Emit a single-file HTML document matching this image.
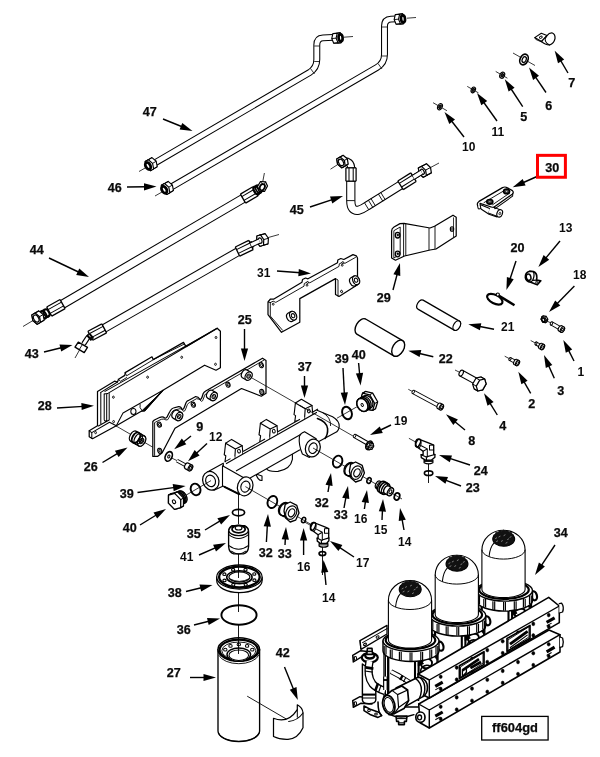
<!DOCTYPE html>
<html><head><meta charset="utf-8"><title>ff604gd</title>
<style>
html,body{margin:0;padding:0;background:#fff;}
body{width:600px;height:757px;overflow:hidden;}
svg{display:block;}
.lb{font-family:"Liberation Sans",Arial,sans-serif;font-weight:bold;text-anchor:middle;fill:#0a0a0a;stroke:#0a0a0a;stroke-width:0.25px;}
svg{will-change:transform;}
.l1{stroke:none;}
</style></head><body>
<svg width="600" height="757" viewBox="0 0 600 757">
<rect width="600" height="757" fill="#fff"/>
<text x="149.8" y="116.2" class="lb" font-size="12.6">47</text>
<text x="114.8" y="191.8" class="lb" font-size="12.6">46</text>
<text x="36.8" y="253.8" class="lb" font-size="12.6">44</text>
<text x="31.8" y="357.8" class="lb" font-size="12.6">43</text>
<text x="263.8" y="276.8" class="lb l1" font-size="12">31</text>
<text x="244.8" y="323.8" class="lb" font-size="12.6">25</text>
<text x="296.8" y="213.8" class="lb" font-size="12.6">45</text>
<text x="571.8" y="86.8" class="lb" font-size="12.6">7</text>
<text x="548.8" y="109.8" class="lb" font-size="12.6">6</text>
<text x="523.8" y="120.8" class="lb" font-size="12.6">5</text>
<text x="497.8" y="135.8" class="lb l1" font-size="12">11</text>
<text x="468.8" y="150.8" class="lb l1" font-size="12">10</text>
<text x="552.3" y="171.8" class="lb" font-size="12.6">30</text>
<text x="565.8" y="231.8" class="lb l1" font-size="12">13</text>
<text x="517.4" y="252.20000000000002" class="lb" font-size="12.6">20</text>
<text x="579.8" y="278.8" class="lb l1" font-size="12">18</text>
<text x="507.8" y="330.8" class="lb l1" font-size="12">21</text>
<text x="445.8" y="362.8" class="lb" font-size="12.6">22</text>
<text x="383.8" y="301.8" class="lb" font-size="12.6">29</text>
<text x="580.8" y="375.8" class="lb l1" font-size="12">1</text>
<text x="341.8" y="362.8" class="lb" font-size="12.6">39</text>
<text x="358.8" y="358.8" class="lb" font-size="12.6">40</text>
<text x="304.8" y="370.8" class="lb" font-size="12.6">37</text>
<text x="560.8" y="394.8" class="lb" font-size="12.6">3</text>
<text x="531.8" y="407.8" class="lb" font-size="12.6">2</text>
<text x="502.8" y="429.8" class="lb" font-size="12.6">4</text>
<text x="471.8" y="444.8" class="lb" font-size="12.6">8</text>
<text x="400.8" y="424.8" class="lb l1" font-size="12">19</text>
<text x="480.8" y="474.8" class="lb" font-size="12.6">24</text>
<text x="472.8" y="491.8" class="lb" font-size="12.6">23</text>
<text x="321.8" y="506.8" class="lb" font-size="12.6">32</text>
<text x="340.8" y="518.8" class="lb" font-size="12.6">33</text>
<text x="360.8" y="522.8" class="lb l1" font-size="12">16</text>
<text x="380.8" y="533.8" class="lb l1" font-size="12">15</text>
<text x="404.8" y="545.8" class="lb l1" font-size="12">14</text>
<text x="362.8" y="566.8" class="lb l1" font-size="12">17</text>
<text x="303.8" y="570.8" class="lb l1" font-size="12">16</text>
<text x="328.8" y="601.8" class="lb l1" font-size="12">14</text>
<text x="560.8" y="537.0" class="lb" font-size="12.6">34</text>
<text x="44.8" y="409.8" class="lb" font-size="12.6">28</text>
<text x="199.8" y="430.8" class="lb" font-size="12.6">9</text>
<text x="215.8" y="440.8" class="lb l1" font-size="12">12</text>
<text x="90.8" y="470.8" class="lb" font-size="12.6">26</text>
<text x="126.8" y="497.8" class="lb" font-size="12.6">39</text>
<text x="129.8" y="531.8" class="lb" font-size="12.6">40</text>
<text x="193.8" y="537.8" class="lb" font-size="12.6">35</text>
<text x="186.8" y="560.8" class="lb l1" font-size="12">41</text>
<text x="265.8" y="556.8" class="lb" font-size="12.6">32</text>
<text x="284.8" y="557.8" class="lb" font-size="12.6">33</text>
<text x="174.8" y="596.8" class="lb" font-size="12.6">38</text>
<text x="183.8" y="633.8" class="lb" font-size="12.6">36</text>
<text x="173.8" y="676.8" class="lb" font-size="12.6">27</text>
<text x="282.8" y="656.8" class="lb" font-size="12.6">42</text>
<line x1="163.0" y1="119.0" x2="182.8" y2="127.0" stroke="#000" stroke-width="1.4"/>
<polygon points="192.5,131.0 179.6,129.6 182.3,123.0" fill="#000"/>
<line x1="127.0" y1="187.0" x2="146.0" y2="186.7" stroke="#000" stroke-width="1.4"/>
<polygon points="156.5,186.6 144.0,190.4 144.0,183.2" fill="#000"/>
<line x1="49.0" y1="258.0" x2="79.5" y2="272.5" stroke="#000" stroke-width="1.4"/>
<polygon points="89.0,277.0 76.2,274.9 79.3,268.4" fill="#000"/>
<line x1="44.0" y1="352.0" x2="62.3" y2="347.5" stroke="#000" stroke-width="1.4"/>
<polygon points="72.5,345.0 61.2,351.5 59.5,344.5" fill="#000"/>
<line x1="277.0" y1="271.0" x2="300.5" y2="272.7" stroke="#000" stroke-width="1.4"/>
<polygon points="311.0,273.5 298.3,276.2 298.8,269.0" fill="#000"/>
<line x1="244.5" y1="329.0" x2="244.5" y2="350.5" stroke="#000" stroke-width="1.4"/>
<polygon points="244.5,361.0 240.9,348.5 248.1,348.5" fill="#000"/>
<line x1="310.0" y1="207.0" x2="333.0" y2="199.3" stroke="#000" stroke-width="1.4"/>
<polygon points="343.0,196.0 332.3,203.4 330.0,196.5" fill="#000"/>
<line x1="568.0" y1="73.0" x2="560.1" y2="59.7" stroke="#000" stroke-width="1.4"/>
<polygon points="554.7,50.7 564.2,59.6 558.0,63.3" fill="#000"/>
<line x1="546.0" y1="92.5" x2="534.9" y2="76.2" stroke="#000" stroke-width="1.4"/>
<polygon points="529.0,67.5 539.0,75.8 533.1,79.9" fill="#000"/>
<line x1="522.7" y1="106.7" x2="510.5" y2="88.0" stroke="#000" stroke-width="1.4"/>
<polygon points="504.8,79.2 514.6,87.7 508.6,91.6" fill="#000"/>
<line x1="497.0" y1="121.0" x2="483.1" y2="101.5" stroke="#000" stroke-width="1.4"/>
<polygon points="477.0,93.0 487.2,101.1 481.3,105.3" fill="#000"/>
<line x1="464.0" y1="137.0" x2="451.0" y2="120.3" stroke="#000" stroke-width="1.4"/>
<polygon points="444.5,112.0 455.0,119.6 449.3,124.1" fill="#000"/>
<line x1="537.0" y1="176.5" x2="522.3" y2="183.0" stroke="#000" stroke-width="1.4"/>
<polygon points="512.7,187.3 522.7,178.9 525.6,185.5" fill="#000"/>
<line x1="560.0" y1="241.0" x2="545.1" y2="258.9" stroke="#000" stroke-width="1.4"/>
<polygon points="538.4,267.0 543.6,255.1 549.2,259.7" fill="#000"/>
<line x1="516.0" y1="261.0" x2="509.7" y2="280.0" stroke="#000" stroke-width="1.4"/>
<polygon points="506.4,290.0 506.9,277.0 513.7,279.3" fill="#000"/>
<line x1="574.4" y1="286.0" x2="556.3" y2="304.5" stroke="#000" stroke-width="1.4"/>
<polygon points="549.0,312.0 555.2,300.5 560.3,305.6" fill="#000"/>
<line x1="494.0" y1="329.3" x2="478.6" y2="326.3" stroke="#000" stroke-width="1.4"/>
<polygon points="468.3,324.3 481.3,323.2 479.9,330.2" fill="#000"/>
<line x1="433.3" y1="356.7" x2="418.5" y2="353.2" stroke="#000" stroke-width="1.4"/>
<polygon points="408.3,350.7 421.3,350.1 419.6,357.1" fill="#000"/>
<line x1="393.0" y1="290.0" x2="397.4" y2="273.2" stroke="#000" stroke-width="1.4"/>
<polygon points="400.0,263.0 400.3,276.0 393.4,274.2" fill="#000"/>
<line x1="574.0" y1="361.0" x2="568.1" y2="349.4" stroke="#000" stroke-width="1.4"/>
<polygon points="563.3,340.0 572.2,349.5 565.8,352.8" fill="#000"/>
<line x1="343.0" y1="368.0" x2="344.4" y2="394.5" stroke="#000" stroke-width="1.4"/>
<polygon points="345.0,405.0 340.7,392.7 347.9,392.3" fill="#000"/>
<line x1="358.6" y1="363.0" x2="359.7" y2="375.0" stroke="#000" stroke-width="1.4"/>
<polygon points="360.6,385.5 355.9,373.4 363.1,372.7" fill="#000"/>
<line x1="304.5" y1="376.0" x2="304.5" y2="387.5" stroke="#000" stroke-width="1.4"/>
<polygon points="304.5,398.0 300.9,385.5 308.1,385.5" fill="#000"/>
<line x1="530.7" y1="393.3" x2="523.5" y2="380.8" stroke="#000" stroke-width="1.4"/>
<polygon points="518.3,371.7 527.6,380.7 521.4,384.3" fill="#000"/>
<line x1="497.3" y1="415.0" x2="489.5" y2="402.3" stroke="#000" stroke-width="1.4"/>
<polygon points="484.0,393.3 493.6,402.1 487.5,405.8" fill="#000"/>
<line x1="465.0" y1="430.0" x2="454.1" y2="421.0" stroke="#000" stroke-width="1.4"/>
<polygon points="446.0,414.3 457.9,419.5 453.3,425.0" fill="#000"/>
<line x1="391.0" y1="425.0" x2="379.5" y2="430.5" stroke="#000" stroke-width="1.4"/>
<polygon points="370.0,435.0 379.7,426.4 382.8,432.9" fill="#000"/>
<line x1="470.0" y1="465.0" x2="449.0" y2="458.2" stroke="#000" stroke-width="1.4"/>
<polygon points="439.0,455.0 452.0,455.4 449.8,462.3" fill="#000"/>
<line x1="461.0" y1="486.0" x2="444.8" y2="479.8" stroke="#000" stroke-width="1.4"/>
<polygon points="435.0,476.0 448.0,477.1 445.4,483.8" fill="#000"/>
<line x1="328.0" y1="492.0" x2="329.4" y2="483.4" stroke="#000" stroke-width="1.4"/>
<polygon points="331.0,473.0 332.6,485.9 325.5,484.8" fill="#000"/>
<line x1="344.0" y1="508.0" x2="346.1" y2="496.3" stroke="#000" stroke-width="1.4"/>
<polygon points="348.0,486.0 349.3,498.9 342.2,497.7" fill="#000"/>
<line x1="364.4" y1="509.0" x2="365.6" y2="500.4" stroke="#000" stroke-width="1.4"/>
<polygon points="367.0,490.0 368.9,502.9 361.7,501.9" fill="#000"/>
<line x1="382.0" y1="520.0" x2="382.5" y2="509.5" stroke="#000" stroke-width="1.4"/>
<polygon points="383.0,499.0 386.0,511.7 378.8,511.3" fill="#000"/>
<line x1="404.0" y1="530.0" x2="401.9" y2="518.3" stroke="#000" stroke-width="1.4"/>
<polygon points="400.0,508.0 405.8,519.7 398.7,520.9" fill="#000"/>
<line x1="354.0" y1="557.0" x2="338.7" y2="546.8" stroke="#000" stroke-width="1.4"/>
<polygon points="330.0,541.0 342.4,544.9 338.4,550.9" fill="#000"/>
<line x1="303.6" y1="555.0" x2="303.6" y2="538.5" stroke="#000" stroke-width="1.4"/>
<polygon points="303.6,528.0 307.2,540.5 300.0,540.5" fill="#000"/>
<line x1="326.0" y1="585.0" x2="324.5" y2="570.4" stroke="#000" stroke-width="1.4"/>
<polygon points="323.5,560.0 328.3,572.1 321.2,572.8" fill="#000"/>
<line x1="555.0" y1="545.0" x2="540.8" y2="566.3" stroke="#000" stroke-width="1.4"/>
<polygon points="535.0,575.0 538.9,562.6 544.9,566.6" fill="#000"/>
<line x1="57.0" y1="408.0" x2="83.5" y2="406.4" stroke="#000" stroke-width="1.4"/>
<polygon points="94.0,405.8 81.7,410.1 81.3,402.9" fill="#000"/>
<line x1="191.0" y1="436.0" x2="182.5" y2="442.7" stroke="#000" stroke-width="1.4"/>
<polygon points="174.2,449.2 181.8,438.6 186.3,444.3" fill="#000"/>
<line x1="207.0" y1="443.5" x2="195.7" y2="454.1" stroke="#000" stroke-width="1.4"/>
<polygon points="188.0,461.3 194.7,450.1 199.6,455.4" fill="#000"/>
<line x1="102.5" y1="462.5" x2="118.5" y2="452.9" stroke="#000" stroke-width="1.4"/>
<polygon points="127.5,447.5 118.6,457.0 114.9,450.8" fill="#000"/>
<line x1="137.5" y1="492.5" x2="175.2" y2="487.4" stroke="#000" stroke-width="1.4"/>
<polygon points="185.6,486.0 173.7,491.2 172.7,484.1" fill="#000"/>
<line x1="140.0" y1="525.0" x2="157.1" y2="514.5" stroke="#000" stroke-width="1.4"/>
<polygon points="166.0,509.0 157.2,518.6 153.5,512.5" fill="#000"/>
<line x1="205.0" y1="530.0" x2="221.0" y2="520.4" stroke="#000" stroke-width="1.4"/>
<polygon points="230.0,515.0 221.1,524.5 217.4,518.3" fill="#000"/>
<line x1="199.0" y1="555.0" x2="216.4" y2="547.3" stroke="#000" stroke-width="1.4"/>
<polygon points="226.0,543.0 216.0,551.4 213.1,544.8" fill="#000"/>
<line x1="266.4" y1="542.0" x2="267.4" y2="524.5" stroke="#000" stroke-width="1.4"/>
<polygon points="268.0,514.0 270.9,526.7 263.7,526.3" fill="#000"/>
<line x1="285.0" y1="545.0" x2="285.4" y2="537.5" stroke="#000" stroke-width="1.4"/>
<polygon points="286.0,527.0 288.9,539.7 281.7,539.3" fill="#000"/>
<line x1="186.0" y1="591.5" x2="202.3" y2="587.5" stroke="#000" stroke-width="1.4"/>
<polygon points="212.5,585.0 201.2,591.5 199.5,584.5" fill="#000"/>
<line x1="194.0" y1="625.0" x2="209.8" y2="621.0" stroke="#000" stroke-width="1.4"/>
<polygon points="220.0,618.5 208.7,625.0 207.0,618.0" fill="#000"/>
<line x1="190.0" y1="677.5" x2="205.5" y2="677.5" stroke="#000" stroke-width="1.4"/>
<polygon points="216.0,677.5 203.5,681.1 203.5,673.9" fill="#000"/>
<line x1="284.5" y1="667.0" x2="293.9" y2="690.3" stroke="#000" stroke-width="1.4"/>
<polygon points="297.8,700.0 289.8,689.8 296.5,687.1" fill="#000"/>
<line x1="554.3" y1="378.3" x2="548.2" y2="364.6" stroke="#000" stroke-width="1.4"/>
<polygon points="544.0,355.0 552.3,365.0 545.8,367.9" fill="#000"/>
<rect x="537.5" y="155.35" width="27.9" height="21.9" fill="none" stroke="#ff0000" stroke-width="3"/>
<rect x="481.7" y="716.4" width="66.4" height="23.6" fill="#fff" stroke="#000" stroke-width="1.3"/>
<text x="515" y="731.5" class="lb" font-size="12.9">ff604gd</text>
<line x1="139" y1="171.5" x2="153" y2="163.5" stroke="#000" stroke-width="0.78"/>
<path d="M 154,163.4 L 309.5,72.6 Q 316.8,68 316.8,59.5 L 316.8,45 Q 316.8,38.2 323,37.9 L 333,37.4" fill="none" stroke="#000" stroke-width="6.95" stroke-linejoin="round" stroke-linecap="butt"/>
<path d="M 154,163.4 L 309.5,72.6 Q 316.8,68 316.8,59.5 L 316.8,45 Q 316.8,38.2 323,37.9 L 333,37.4" fill="none" stroke="#fff" stroke-width="4.8500000000000005" stroke-linejoin="round" stroke-linecap="butt"/>
<line x1="310.5" y1="68.5" x2="314.5" y2="74" stroke="#000" stroke-width="0.78"/>
<line x1="314.2" y1="61.5" x2="319.5" y2="61.5" stroke="#000" stroke-width="0.78"/>
<line x1="314.2" y1="46" x2="319.5" y2="46" stroke="#000" stroke-width="0.78"/>
<path d="M 145.17,161.54 L 148.34,159.71 L 151.98,157.61 L 156.21,161.27 L 157.26,166.76 L 153.63,168.86 L 150.46,170.69 L 146.23,167.03 Z" fill="#fff" stroke="#000" stroke-width="1.12" stroke-linejoin="round" stroke-linecap="round" />
<line x1="145.17" y1="161.54" x2="148.81" y2="159.44" stroke="#000" stroke-width="0.9"/>
<line x1="146.23" y1="167.03" x2="149.87" y2="164.93" stroke="#000" stroke-width="0.9"/>
<line x1="150.46" y1="170.69" x2="154.09" y2="168.59" stroke="#000" stroke-width="0.9"/>
<line x1="153.63" y1="168.86" x2="157.26" y2="166.76" stroke="#000" stroke-width="0.9"/>
<line x1="152.57" y1="163.37" x2="156.21" y2="161.27" stroke="#000" stroke-width="0.9"/>
<line x1="148.34" y1="159.71" x2="151.98" y2="157.61" stroke="#000" stroke-width="0.9"/>
<path d="M 145.17,161.54 L 146.23,167.03 L 150.46,170.69 L 153.63,168.86 L 152.57,163.37 L 148.34,159.71 Z" fill="#fff" stroke="#000" stroke-width="1.12" stroke-linejoin="round" stroke-linecap="round" />
<ellipse cx="148.0" cy="165.9" rx="2.3" ry="3.7" fill="#fff" stroke="#000" stroke-width="2.8" transform="rotate(-30 148.0 165.9)"/>
<line x1="344" y1="37.2" x2="353" y2="36.5" stroke="#000" stroke-width="0.78"/>
<path d="M 331.75,38.55 L 332.86,33.59 L 337.24,33.2 L 340.31,32.93 L 342.27,37.63 L 341.16,42.6 L 338.09,42.87 L 333.71,43.25 Z" fill="#fff" stroke="#000" stroke-width="1.12" stroke-linejoin="round" stroke-linecap="round" />
<line x1="341.16" y1="42.6" x2="336.77" y2="42.98" stroke="#000" stroke-width="0.9"/>
<line x1="342.27" y1="37.63" x2="337.89" y2="38.02" stroke="#000" stroke-width="0.9"/>
<line x1="340.31" y1="32.93" x2="335.93" y2="33.32" stroke="#000" stroke-width="0.9"/>
<line x1="337.24" y1="33.2" x2="332.86" y2="33.59" stroke="#000" stroke-width="0.9"/>
<line x1="336.13" y1="38.17" x2="331.75" y2="38.55" stroke="#000" stroke-width="0.9"/>
<line x1="338.09" y1="42.87" x2="333.71" y2="43.25" stroke="#000" stroke-width="0.9"/>
<path d="M 341.16,42.6 L 342.27,37.63 L 340.31,32.93 L 337.24,33.2 L 336.13,38.17 L 338.09,42.87 Z" fill="#fff" stroke="#000" stroke-width="1.12" stroke-linejoin="round" stroke-linecap="round" />
<ellipse cx="340.6" cy="37.8" rx="2.0" ry="3.5" fill="#fff" stroke="#000" stroke-width="2.69" transform="rotate(-5 340.6 37.8)"/>
<line x1="155" y1="196" x2="169" y2="188" stroke="#000" stroke-width="0.78"/>
<path d="M 170,187.8 L 377,67.4 Q 384.5,63 384.5,54.5 L 384.5,26 Q 384.5,19.4 391,19.1 L 396,18.9" fill="none" stroke="#000" stroke-width="6.95" stroke-linejoin="round" stroke-linecap="butt"/>
<path d="M 170,187.8 L 377,67.4 Q 384.5,63 384.5,54.5 L 384.5,26 Q 384.5,19.4 391,19.1 L 396,18.9" fill="none" stroke="#fff" stroke-width="4.8500000000000005" stroke-linejoin="round" stroke-linecap="butt"/>
<line x1="378" y1="63.5" x2="382" y2="69" stroke="#000" stroke-width="0.78"/>
<line x1="382" y1="56" x2="387" y2="56" stroke="#000" stroke-width="0.78"/>
<line x1="382" y1="27" x2="387" y2="27" stroke="#000" stroke-width="0.78"/>
<path d="M 161.37,185.34 L 164.54,183.51 L 168.18,181.41 L 172.41,185.07 L 173.46,190.56 L 169.83,192.66 L 166.66,194.49 L 162.43,190.83 Z" fill="#fff" stroke="#000" stroke-width="1.12" stroke-linejoin="round" stroke-linecap="round" />
<line x1="161.37" y1="185.34" x2="165.01" y2="183.24" stroke="#000" stroke-width="0.9"/>
<line x1="162.43" y1="190.83" x2="166.07" y2="188.73" stroke="#000" stroke-width="0.9"/>
<line x1="166.66" y1="194.49" x2="170.29" y2="192.39" stroke="#000" stroke-width="0.9"/>
<line x1="169.83" y1="192.66" x2="173.46" y2="190.56" stroke="#000" stroke-width="0.9"/>
<line x1="168.77" y1="187.17" x2="172.41" y2="185.07" stroke="#000" stroke-width="0.9"/>
<line x1="164.54" y1="183.51" x2="168.18" y2="181.41" stroke="#000" stroke-width="0.9"/>
<path d="M 161.37,185.34 L 162.43,190.83 L 166.66,194.49 L 169.83,192.66 L 168.77,187.17 L 164.54,183.51 Z" fill="#fff" stroke="#000" stroke-width="1.12" stroke-linejoin="round" stroke-linecap="round" />
<ellipse cx="164.2" cy="189.7" rx="2.3" ry="3.7" fill="#fff" stroke="#000" stroke-width="2.8" transform="rotate(-30 164.2 189.7)"/>
<line x1="407" y1="18.2" x2="416" y2="17.5" stroke="#000" stroke-width="0.78"/>
<path d="M 394.15,19.55 L 395.26,14.59 L 399.64,14.2 L 402.71,13.93 L 404.67,18.63 L 403.56,23.6 L 400.49,23.87 L 396.11,24.25 Z" fill="#fff" stroke="#000" stroke-width="1.12" stroke-linejoin="round" stroke-linecap="round" />
<line x1="403.56" y1="23.6" x2="399.17" y2="23.98" stroke="#000" stroke-width="0.9"/>
<line x1="404.67" y1="18.63" x2="400.29" y2="19.02" stroke="#000" stroke-width="0.9"/>
<line x1="402.71" y1="13.93" x2="398.33" y2="14.32" stroke="#000" stroke-width="0.9"/>
<line x1="399.64" y1="14.2" x2="395.26" y2="14.59" stroke="#000" stroke-width="0.9"/>
<line x1="398.53" y1="19.17" x2="394.15" y2="19.55" stroke="#000" stroke-width="0.9"/>
<line x1="400.49" y1="23.87" x2="396.11" y2="24.25" stroke="#000" stroke-width="0.9"/>
<path d="M 403.56,23.6 L 404.67,18.63 L 402.71,13.93 L 399.64,14.2 L 398.53,19.17 L 400.49,23.87 Z" fill="#fff" stroke="#000" stroke-width="1.12" stroke-linejoin="round" stroke-linecap="round" />
<ellipse cx="403.0" cy="18.8" rx="2.0" ry="3.5" fill="#fff" stroke="#000" stroke-width="2.69" transform="rotate(-5 403.0 18.8)"/>
<line x1="23" y1="326.5" x2="33" y2="320.5" stroke="#000" stroke-width="0.78"/>
<path d="M 61,305.1 L 244,198.0" fill="none" stroke="#000" stroke-width="9.350000000000001" stroke-linejoin="round" stroke-linecap="butt"/>
<path d="M 61,305.1 L 244,198.0" fill="none" stroke="#fff" stroke-width="7.250000000000001" stroke-linejoin="round" stroke-linecap="butt"/>
<path d="M 40,316.6 L 49.4,311.2" fill="none" stroke="#000" stroke-width="7.5" stroke-linejoin="round" stroke-linecap="butt"/>
<path d="M 40,316.6 L 49.4,311.2" fill="none" stroke="#fff" stroke-width="5.300000000000001" stroke-linejoin="round" stroke-linecap="butt"/>
<ellipse cx="43.4" cy="314.8" rx="2.6" ry="4.2" fill="none" stroke="#000" stroke-width="1.9" transform="rotate(-30 43.4 314.8)"/>
<ellipse cx="46.4" cy="313.1" rx="2.6" ry="4.2" fill="none" stroke="#000" stroke-width="1.9" transform="rotate(-30 46.4 313.1)"/>
<path d="M 49.2,311.6 L 62.6,304.1" fill="none" stroke="#000" stroke-width="11.65" stroke-linejoin="round" stroke-linecap="butt"/>
<path d="M 49.2,311.6 L 62.6,304.1" fill="none" stroke="#fff" stroke-width="9.15" stroke-linejoin="round" stroke-linecap="butt"/>
<line x1="48.1" y1="309.6" x2="61.5" y2="302.1" stroke="#000" stroke-width="1.01"/>
<line x1="50.2" y1="313.4" x2="63.6" y2="305.9" stroke="#000" stroke-width="1.01"/>
<line x1="51.7" y1="316.1" x2="46.7" y2="307.1" stroke="#000" stroke-width="1.34"/>
<line x1="65.1" y1="308.6" x2="60.1" y2="299.6" stroke="#000" stroke-width="1.34"/>
<path d="M 31.85,314.91 L 35.49,312.81 L 38.82,310.89 L 43.17,314.58 L 44.19,320.19 L 40.55,322.29 L 37.22,324.21 L 32.87,320.52 Z" fill="#fff" stroke="#000" stroke-width="1.23" stroke-linejoin="round" stroke-linecap="round" />
<line x1="31.85" y1="314.91" x2="35.49" y2="312.81" stroke="#000" stroke-width="0.99"/>
<line x1="32.87" y1="320.52" x2="36.51" y2="318.42" stroke="#000" stroke-width="0.99"/>
<line x1="37.22" y1="324.21" x2="40.86" y2="322.11" stroke="#000" stroke-width="0.99"/>
<line x1="40.55" y1="322.29" x2="44.19" y2="320.19" stroke="#000" stroke-width="0.99"/>
<line x1="39.53" y1="316.68" x2="43.17" y2="314.58" stroke="#000" stroke-width="0.99"/>
<line x1="35.18" y1="312.99" x2="38.82" y2="310.89" stroke="#000" stroke-width="0.99"/>
<path d="M 31.85,314.91 L 32.87,320.52 L 37.22,324.21 L 40.55,322.29 L 39.53,316.68 L 35.18,312.99 Z" fill="#fff" stroke="#000" stroke-width="1.23" stroke-linejoin="round" stroke-linecap="round" />
<ellipse cx="36.2" cy="318.6" rx="2.4" ry="3.8" fill="#fff" stroke="#000" stroke-width="1.23" transform="rotate(150 36.2 318.6)"/>
<path d="M 243,198.6 L 255.5,191.3" fill="none" stroke="#000" stroke-width="11.65" stroke-linejoin="round" stroke-linecap="butt"/>
<path d="M 243,198.6 L 255.5,191.3" fill="none" stroke="#fff" stroke-width="9.15" stroke-linejoin="round" stroke-linecap="butt"/>
<line x1="241.8" y1="196.6" x2="254.3" y2="189.3" stroke="#000" stroke-width="1.01"/>
<line x1="244.0" y1="200.4" x2="256.5" y2="193.1" stroke="#000" stroke-width="1.01"/>
<line x1="245.6" y1="203.1" x2="240.4" y2="194.1" stroke="#000" stroke-width="1.34"/>
<line x1="258.1" y1="195.8" x2="252.9" y2="186.8" stroke="#000" stroke-width="1.34"/>
<line x1="264.4" y1="173" x2="262.5" y2="183" stroke="#000" stroke-width="0.78"/>
<path d="M 255.5,191.0 L 259.4,188.6" fill="none" stroke="#000" stroke-width="7.5" stroke-linejoin="round" stroke-linecap="butt"/>
<path d="M 255.5,191.0 L 259.4,188.6" fill="none" stroke="#fff" stroke-width="5.300000000000001" stroke-linejoin="round" stroke-linecap="butt"/>
<ellipse cx="256.4" cy="190.5" rx="2.4" ry="4.4" fill="none" stroke="#000" stroke-width="1.9" transform="rotate(-30 256.4 190.5)"/>
<ellipse cx="258.4" cy="189.2" rx="2.4" ry="4.4" fill="none" stroke="#000" stroke-width="1.68" transform="rotate(-30 258.4 189.2)"/>
<path d="M 257.5,186.5 L 260.5,181.5 L 265.5,181.8 L 267.5,186 L 264.5,191.5 L 259.5,191.5 Z" fill="#fff" stroke="#000" stroke-width="1.23" stroke-linejoin="round" stroke-linecap="round" />
<ellipse cx="262.3" cy="187.2" rx="2.4" ry="3.3" fill="#fff" stroke="#000" stroke-width="1.79" transform="rotate(25 262.3 187.2)"/>
<path d="M 260.5,181.5 L 262,183.5 M 265.5,181.8 L 264.5,183.6" fill="none" stroke="#000" stroke-width="0.78" stroke-linejoin="round" stroke-linecap="round" />
<path d="M 104,328.4 L 238.5,251.4" fill="none" stroke="#000" stroke-width="9.05" stroke-linejoin="round" stroke-linecap="butt"/>
<path d="M 104,328.4 L 238.5,251.4" fill="none" stroke="#fff" stroke-width="6.95" stroke-linejoin="round" stroke-linecap="butt"/>
<path d="M 90.3,335.8 L 104.2,328.4" fill="none" stroke="#000" stroke-width="11.45" stroke-linejoin="round" stroke-linecap="butt"/>
<path d="M 90.3,335.8 L 104.2,328.4" fill="none" stroke="#fff" stroke-width="8.95" stroke-linejoin="round" stroke-linecap="butt"/>
<line x1="89.2" y1="333.8" x2="103.1" y2="326.4" stroke="#000" stroke-width="1.01"/>
<line x1="91.3" y1="337.6" x2="105.2" y2="330.2" stroke="#000" stroke-width="1.01"/>
<line x1="92.7" y1="340.3" x2="87.9" y2="331.3" stroke="#000" stroke-width="1.34"/>
<line x1="106.6" y1="332.9" x2="101.8" y2="323.9" stroke="#000" stroke-width="1.34"/>
<path d="M 91,334.5 L 87.5,338 L 83.6,344" fill="none" stroke="#000" stroke-width="5.1" stroke-linejoin="round" stroke-linecap="butt"/>
<path d="M 91,334.5 L 87.5,338 L 83.6,344" fill="none" stroke="#fff" stroke-width="2.9" stroke-linejoin="round" stroke-linecap="butt"/>
<line x1="87" y1="335" x2="91.5" y2="340.4" stroke="#000" stroke-width="2.02"/>
<line x1="89.4" y1="333.6" x2="93.4" y2="338.6" stroke="#000" stroke-width="1.79"/>
<line x1="75" y1="358" x2="79.5" y2="350" stroke="#000" stroke-width="0.78"/>
<path d="M 78.3,342.1 L 87.5,347.4 L 84.2,352.6 L 75,347.2 Z" fill="#fff" stroke="#000" stroke-width="1.34" stroke-linejoin="round" stroke-linecap="round" />
<line x1="82.4" y1="344.5" x2="79.2" y2="349.7" stroke="#000" stroke-width="0.9"/>
<path d="M 237.5,251.6 L 251,245" fill="none" stroke="#000" stroke-width="11.45" stroke-linejoin="round" stroke-linecap="butt"/>
<path d="M 237.5,251.6 L 251,245" fill="none" stroke="#fff" stroke-width="8.95" stroke-linejoin="round" stroke-linecap="butt"/>
<line x1="236.5" y1="249.6" x2="250.0" y2="243.0" stroke="#000" stroke-width="1.01"/>
<line x1="238.4" y1="253.4" x2="251.9" y2="246.8" stroke="#000" stroke-width="1.01"/>
<line x1="239.7" y1="256.2" x2="235.3" y2="247.0" stroke="#000" stroke-width="1.34"/>
<line x1="253.2" y1="249.6" x2="248.8" y2="240.4" stroke="#000" stroke-width="1.34"/>
<line x1="250.6" y1="241.4" x2="253" y2="247.6" stroke="#000" stroke-width="2.24"/>
<line x1="266.5" y1="238" x2="279" y2="234.5" stroke="#000" stroke-width="0.78"/>
<path d="M 256.62,241.63 L 256.93,235.95 L 265.12,233.6 L 268.39,238.25 L 268.08,243.93 L 263.47,245.25 L 259.89,246.27 Z" fill="#fff" stroke="#000" stroke-width="1.18" stroke-linejoin="round" stroke-linecap="round" />
<line x1="256.93" y1="235.95" x2="261.55" y2="234.63" stroke="#000" stroke-width="0.94"/>
<line x1="256.62" y1="241.63" x2="261.24" y2="240.3" stroke="#000" stroke-width="0.94"/>
<line x1="259.89" y1="246.27" x2="264.51" y2="244.95" stroke="#000" stroke-width="0.94"/>
<line x1="263.47" y1="245.25" x2="268.08" y2="243.93" stroke="#000" stroke-width="0.94"/>
<line x1="263.78" y1="239.57" x2="268.39" y2="238.25" stroke="#000" stroke-width="0.94"/>
<line x1="260.51" y1="234.93" x2="265.12" y2="233.6" stroke="#000" stroke-width="0.94"/>
<path d="M 256.93,235.95 L 256.62,241.63 L 259.89,246.27 L 263.47,245.25 L 263.78,239.57 L 260.51,234.93 Z" fill="#fff" stroke="#000" stroke-width="1.18" stroke-linejoin="round" stroke-linecap="round" />
<ellipse cx="260.2" cy="240.6" rx="1.7" ry="2.8" fill="#fff" stroke="#000" stroke-width="1.18" transform="rotate(164 260.2 240.6)"/>
<path d="M 251,245 L 259.4,241.0" fill="none" stroke="#000" stroke-width="5.45" stroke-linejoin="round" stroke-linecap="butt"/>
<path d="M 251,245 L 259.4,241.0" fill="none" stroke="#fff" stroke-width="3.3500000000000005" stroke-linejoin="round" stroke-linecap="butt"/>
<line x1="330.5" y1="169.2" x2="337" y2="165" stroke="#000" stroke-width="0.78"/>
<path d="M 350.8,180 L 350.8,201 Q 350.8,211.4 358.6,210.2 Q 362,209.4 367,206 L 401,184.8" fill="none" stroke="#000" stroke-width="9.25" stroke-linejoin="round" stroke-linecap="butt"/>
<path d="M 350.8,180 L 350.8,201 Q 350.8,211.4 358.6,210.2 Q 362,209.4 367,206 L 401,184.8" fill="none" stroke="#fff" stroke-width="7.1499999999999995" stroke-linejoin="round" stroke-linecap="butt"/>
<line x1="364.40000000000003" y1="202.6" x2="368.8" y2="209.79999999999998" stroke="#000" stroke-width="0.9"/>
<line x1="368.40000000000003" y1="200.20000000000002" x2="372.8" y2="207.4" stroke="#000" stroke-width="0.9"/>
<line x1="371.0" y1="198.6" x2="375.4" y2="205.79999999999998" stroke="#000" stroke-width="0.9"/>
<line x1="378.40000000000003" y1="194.0" x2="382.8" y2="201.2" stroke="#000" stroke-width="0.9"/>
<line x1="380.8" y1="192.5" x2="385.2" y2="199.7" stroke="#000" stroke-width="0.9"/>
<line x1="346.8" y1="200.6" x2="354.8" y2="200.6" stroke="#000" stroke-width="0.9"/>
<path d="M 343,161.2 Q 351.2,160.5 351.2,169" fill="none" stroke="#000" stroke-width="8.1" stroke-linejoin="round" stroke-linecap="butt"/>
<path d="M 343,161.2 Q 351.2,160.5 351.2,169" fill="none" stroke="#fff" stroke-width="5.9" stroke-linejoin="round" stroke-linecap="butt"/>
<path d="M 351,167.8 L 351,181.2" fill="none" stroke="#000" stroke-width="11.45" stroke-linejoin="round" stroke-linecap="butt"/>
<path d="M 351,167.8 L 351,181.2" fill="none" stroke="#fff" stroke-width="8.95" stroke-linejoin="round" stroke-linecap="butt"/>
<line x1="353.2" y1="167.8" x2="353.2" y2="181.2" stroke="#000" stroke-width="1.01"/>
<line x1="349.0" y1="167.8" x2="349.0" y2="181.2" stroke="#000" stroke-width="1.01"/>
<line x1="345.9" y1="167.8" x2="356.1" y2="167.8" stroke="#000" stroke-width="1.34"/>
<line x1="345.9" y1="181.2" x2="356.1" y2="181.2" stroke="#000" stroke-width="1.34"/>
<path d="M 336.76,158.95 L 340.13,157.0 L 343.08,155.3 L 347.32,158.75 L 348.19,164.15 L 341.87,167.8 L 337.63,164.35 Z" fill="#fff" stroke="#000" stroke-width="1.23" stroke-linejoin="round" stroke-linecap="round" />
<line x1="336.76" y1="158.95" x2="339.7" y2="157.25" stroke="#000" stroke-width="0.99"/>
<line x1="337.63" y1="164.35" x2="340.57" y2="162.65" stroke="#000" stroke-width="0.99"/>
<line x1="341.87" y1="167.8" x2="344.81" y2="166.1" stroke="#000" stroke-width="0.99"/>
<line x1="345.24" y1="165.85" x2="348.19" y2="164.15" stroke="#000" stroke-width="0.99"/>
<line x1="344.37" y1="160.45" x2="347.32" y2="158.75" stroke="#000" stroke-width="0.99"/>
<line x1="340.13" y1="157.0" x2="343.08" y2="155.3" stroke="#000" stroke-width="0.99"/>
<path d="M 336.76,158.95 L 337.63,164.35 L 341.87,167.8 L 345.24,165.85 L 344.37,160.45 L 340.13,157.0 Z" fill="#fff" stroke="#000" stroke-width="1.23" stroke-linejoin="round" stroke-linecap="round" />
<ellipse cx="341.0" cy="162.4" rx="2.3" ry="3.5" fill="#fff" stroke="#000" stroke-width="1.23" transform="rotate(150 341.0 162.4)"/>
<path d="M 400.5,185.3 L 413.5,177.2" fill="none" stroke="#000" stroke-width="11.45" stroke-linejoin="round" stroke-linecap="butt"/>
<path d="M 400.5,185.3 L 413.5,177.2" fill="none" stroke="#fff" stroke-width="8.95" stroke-linejoin="round" stroke-linecap="butt"/>
<line x1="399.3" y1="183.4" x2="412.3" y2="175.3" stroke="#000" stroke-width="1.01"/>
<line x1="401.6" y1="187.0" x2="414.6" y2="178.9" stroke="#000" stroke-width="1.01"/>
<line x1="403.2" y1="189.6" x2="397.8" y2="181.0" stroke="#000" stroke-width="1.34"/>
<line x1="416.2" y1="181.5" x2="410.8" y2="172.9" stroke="#000" stroke-width="1.34"/>
<path d="M 413.5,177.2 L 420,173.2" fill="none" stroke="#000" stroke-width="5.4" stroke-linejoin="round" stroke-linecap="butt"/>
<path d="M 413.5,177.2 L 420,173.2" fill="none" stroke="#fff" stroke-width="3.4000000000000004" stroke-linejoin="round" stroke-linecap="butt"/>
<line x1="415.3" y1="173.5" x2="418" y2="178" stroke="#000" stroke-width="0.9"/>
<line x1="430" y1="167.8" x2="439" y2="163" stroke="#000" stroke-width="0.78"/>
<path d="M 418.37,168.06 L 426.49,163.74 L 430.52,167.48 L 431.37,172.91 L 426.43,175.54 L 423.25,177.23 L 419.22,173.49 Z" fill="#fff" stroke="#000" stroke-width="1.23" stroke-linejoin="round" stroke-linecap="round" />
<line x1="418.37" y1="168.06" x2="423.32" y2="165.43" stroke="#000" stroke-width="0.99"/>
<line x1="419.22" y1="173.49" x2="424.17" y2="170.86" stroke="#000" stroke-width="0.99"/>
<line x1="423.25" y1="177.23" x2="428.19" y2="174.6" stroke="#000" stroke-width="0.99"/>
<line x1="426.43" y1="175.54" x2="431.37" y2="172.91" stroke="#000" stroke-width="0.99"/>
<line x1="425.58" y1="170.11" x2="430.52" y2="167.48" stroke="#000" stroke-width="0.99"/>
<line x1="421.55" y1="166.37" x2="426.49" y2="163.74" stroke="#000" stroke-width="0.99"/>
<path d="M 418.37,168.06 L 419.22,173.49 L 423.25,177.23 L 426.43,175.54 L 425.58,170.11 L 421.55,166.37 Z" fill="#fff" stroke="#000" stroke-width="1.23" stroke-linejoin="round" stroke-linecap="round" />
<ellipse cx="422.4" cy="171.8" rx="1.6" ry="2.7" fill="#fff" stroke="#000" stroke-width="1.23" transform="rotate(152 422.4 171.8)"/>
<path d="M 413.5,177.2 L 421.6,172.2" fill="none" stroke="#000" stroke-width="5.4" stroke-linejoin="round" stroke-linecap="butt"/>
<path d="M 413.5,177.2 L 421.6,172.2" fill="none" stroke="#fff" stroke-width="3.4000000000000004" stroke-linejoin="round" stroke-linecap="butt"/>
<path d="M 268,302 L 270.5,299 L 273.5,299.2 L 302,282.2 L 302.5,279.5 L 305.5,278 L 308,278.8 L 337.5,262.8 L 337.8,260 L 340.8,258.5 L 343.8,259.5 L 353,254.6 L 356.3,255.8 L 357.5,258 L 357.5,284.8 L 339,296.5 L 335.5,294.5 L 335.5,278.6 L 299.8,298.6 L 299.8,322.3 L 281.5,332.3 L 268,314.6 Z" fill="#fff" stroke="#000" stroke-width="1.23" stroke-linejoin="round" stroke-linecap="round" />
<path d="M 270.3,302.6 L 273.2,301.2 L 275.8,302.4 L 304,286.2 L 304.3,283.5 L 307.2,282 L 309.8,282.8 L 339,266.4 L 339.3,263.8 L 342,262.6 L 345,263.3 L 355.5,257.4" fill="none" stroke="#000" stroke-width="0.9" stroke-linejoin="round" stroke-linecap="round" />
<path d="M 270.3,302.6 L 270.3,316 L 282.5,330.2" fill="none" stroke="#000" stroke-width="0.9" stroke-linejoin="round" stroke-linecap="round" />
<path d="M 335.5,278.6 L 338,280 L 338,296" fill="none" stroke="#000" stroke-width="0.9" stroke-linejoin="round" stroke-linecap="round" />
<line x1="268" y1="302" x2="270.3" y2="302.6" stroke="#000" stroke-width="0.9"/>
<ellipse cx="273.2" cy="304.2" rx="0.9" ry="1.0" fill="#fff" stroke="#000" stroke-width="0.9" transform="rotate(0 273.2 304.2)"/>
<ellipse cx="307" cy="285.2" rx="0.9" ry="1.0" fill="#fff" stroke="#000" stroke-width="0.9" transform="rotate(0 307 285.2)"/>
<ellipse cx="307.6" cy="282.5" rx="0.9" ry="1.0" fill="#fff" stroke="#000" stroke-width="0.9" transform="rotate(0 307.6 282.5)"/>
<ellipse cx="342.2" cy="265.2" rx="0.9" ry="1.0" fill="#fff" stroke="#000" stroke-width="0.9" transform="rotate(0 342.2 265.2)"/>
<ellipse cx="342.8" cy="262.6" rx="0.9" ry="1.0" fill="#fff" stroke="#000" stroke-width="0.9" transform="rotate(0 342.8 262.6)"/>
<path d="M 292.0,321.4 A 3.3,4.6 -26.6 0 1 287.9,313.2 L 291.0,311.6 A 3.3,4.6 -26.6 0 1 295.1,319.8 Z" fill="#fff" stroke="#000" stroke-width="1.23" stroke-linejoin="round" stroke-linecap="round" />
<ellipse cx="293.1" cy="315.7" rx="3.3" ry="4.6" fill="#fff" stroke="#000" stroke-width="1.23" transform="rotate(-26.6 293.1 315.7)"/>
<ellipse cx="293.06" cy="315.72" rx="1.656" ry="2.116" fill="#fff" stroke="#000" stroke-width="1.01" transform="rotate(-25 293.06 315.72)"/>
<path d="M 355.0,285.9 A 3.3,4.6 -26.6 0 1 350.9,277.7 L 354.0,276.1 A 3.3,4.6 -26.6 0 1 358.1,284.3 Z" fill="#fff" stroke="#000" stroke-width="1.23" stroke-linejoin="round" stroke-linecap="round" />
<ellipse cx="356.1" cy="280.2" rx="3.3" ry="4.6" fill="#fff" stroke="#000" stroke-width="1.23" transform="rotate(-26.6 356.1 280.2)"/>
<ellipse cx="356.06" cy="280.22" rx="1.656" ry="2.116" fill="#fff" stroke="#000" stroke-width="1.01" transform="rotate(-25 356.06 280.22)"/>
<ellipse cx="341.6" cy="291.5" rx="1.0" ry="1.3" fill="#fff" stroke="#000" stroke-width="0.9" transform="rotate(-20 341.6 291.5)"/>
<path d="M 391.6,231 Q 391.6,228.5 394,227 L 400,223.6 L 404,223.4 L 430,228 L 434.5,226.2 L 453,215.2 L 456.2,217.2 L 456.2,236 L 436,249 L 430,250 L 404.5,256 L 395.5,260.2 L 391.6,258 Z" fill="#fff" stroke="#000" stroke-width="1.23" stroke-linejoin="round" stroke-linecap="round" />
<path d="M 394.2,230.5 L 400.2,227 L 400.2,254.5 L 394.2,257.8 Z" fill="none" stroke="#000" stroke-width="0.9" stroke-linejoin="round" stroke-linecap="round" />
<line x1="403.6" y1="223.6" x2="403.6" y2="256" stroke="#000" stroke-width="0.9"/>
<line x1="405.8" y1="224" x2="405.8" y2="255.6" stroke="#000" stroke-width="0.9"/>
<line x1="429" y1="228" x2="429" y2="250.2" stroke="#000" stroke-width="0.9"/>
<line x1="435" y1="226" x2="435" y2="249.4" stroke="#000" stroke-width="0.9"/>
<line x1="453.5" y1="217.4" x2="453.5" y2="237.5" stroke="#000" stroke-width="0.78"/>
<ellipse cx="397.6" cy="235.2" rx="2.3" ry="2.8" fill="#fff" stroke="#000" stroke-width="1.34" transform="rotate(0 397.6 235.2)"/>
<ellipse cx="397.8" cy="235.0" rx="0.9" ry="1.1" fill="#000" stroke="#000" stroke-width="0.56" transform="rotate(0 397.8 235.0)"/>
<ellipse cx="397.6" cy="254" rx="2.3" ry="2.8" fill="#fff" stroke="#000" stroke-width="1.34" transform="rotate(0 397.6 254)"/>
<ellipse cx="397.8" cy="253.8" rx="0.9" ry="1.1" fill="#000" stroke="#000" stroke-width="0.56" transform="rotate(0 397.8 253.8)"/>
<ellipse cx="452" cy="229" rx="1.7" ry="2.3" fill="#fff" stroke="#000" stroke-width="1.12" transform="rotate(0 452 229)"/>
<ellipse cx="452" cy="229" rx="0.6" ry="0.9" fill="#fff" stroke="#000" stroke-width="0.67" transform="rotate(0 452 229)"/>
<path d="M 480,204.5 L 497,211.5 L 497,217 L 489,214.2 L 481,209 Z" fill="#fff" stroke="#000" stroke-width="1.12" stroke-linejoin="round" stroke-linecap="round" />
<path d="M 489.5,209.5 L 499.5,213.4" fill="none" stroke="#000" stroke-width="8.2" stroke-linejoin="round" stroke-linecap="butt"/>
<path d="M 489.5,209.5 L 499.5,213.4" fill="none" stroke="#fff" stroke-width="6.2" stroke-linejoin="round" stroke-linecap="butt"/>
<ellipse cx="499.7" cy="213.4" rx="2.7" ry="3.8" fill="#fff" stroke="#000" stroke-width="1.12" transform="rotate(20 499.7 213.4)"/>
<ellipse cx="499.9" cy="213.5" rx="0.9" ry="1.3" fill="#fff" stroke="#000" stroke-width="0.78" transform="rotate(20 499.9 213.5)"/>
<path d="M 477.6,205.6 Q 476.6,203 479,201.4 L 502.5,187.6 Q 505,186.4 507,187.6 L 512.4,190.6 Q 514.2,192.4 512.2,194.2 L 494.5,206.8 Q 493,207.6 491.4,207 L 480,203.4" fill="#fff" stroke="#000" stroke-width="1.23" stroke-linejoin="round" stroke-linecap="round" />
<path d="M 477.6,205.6 L 478,208 Q 478.5,209.6 480.5,208.4 M 494.5,206.8 L 494.8,208.8 L 512.6,196.2 L 512.8,193.8" fill="none" stroke="#000" stroke-width="1.01" stroke-linejoin="round" stroke-linecap="round" />
<path d="M 484,202.6 L 503.5,191 L 508.6,193.8 L 492.5,204.8" fill="none" stroke="#000" stroke-width="0.9" stroke-linejoin="round" stroke-linecap="round" />
<ellipse cx="489.8" cy="201.8" rx="3.0" ry="2.3" fill="#555" stroke="#000" stroke-width="1.68" transform="rotate(0 489.8 201.8)"/>
<ellipse cx="489.8" cy="201.8" rx="1.1" ry="0.8" fill="#fff" stroke="#000" stroke-width="0.56" transform="rotate(0 489.8 201.8)"/>
<ellipse cx="506.6" cy="191.4" rx="3.0" ry="2.3" fill="#555" stroke="#000" stroke-width="1.68" transform="rotate(0 506.6 191.4)"/>
<ellipse cx="506.6" cy="191.4" rx="1.1" ry="0.8" fill="#fff" stroke="#000" stroke-width="0.56" transform="rotate(0 506.6 191.4)"/>
<line x1="433.072" y1="102.7" x2="446.928" y2="110.7" stroke="#000" stroke-width="0.78"/>
<ellipse cx="440" cy="106.7" rx="2.2" ry="3.3" fill="#fff" stroke="#000" stroke-width="1.12" transform="rotate(25 440 106.7)"/>
<ellipse cx="440" cy="106.7" rx="1.2100000000000002" ry="1.815" fill="#222" stroke="#000" stroke-width="1.01" transform="rotate(25 440 106.7)"/>
<line x1="467.238" y1="86.4" x2="478.49600000000004" y2="92.9" stroke="#000" stroke-width="0.78"/>
<ellipse cx="473.3" cy="89.9" rx="2.0" ry="3.0" fill="#fff" stroke="#000" stroke-width="1.12" transform="rotate(25 473.3 89.9)"/>
<ellipse cx="473.3" cy="89.9" rx="1.1" ry="1.6500000000000001" fill="#222" stroke="#000" stroke-width="1.01" transform="rotate(25 473.3 89.9)"/>
<line x1="495.705" y1="71.45" x2="507.396" y2="78.2" stroke="#000" stroke-width="0.78"/>
<ellipse cx="502.2" cy="75.2" rx="2.3" ry="3.2" fill="#fff" stroke="#000" stroke-width="1.12" transform="rotate(25 502.2 75.2)"/>
<ellipse cx="502.2" cy="75.2" rx="1.265" ry="1.7600000000000002" fill="#222" stroke="#000" stroke-width="1.01" transform="rotate(25 502.2 75.2)"/>
<line x1="513" y1="53" x2="535" y2="65.5" stroke="#000" stroke-width="0.78"/>
<ellipse cx="524" cy="59.5" rx="3.9" ry="5.6" fill="#fff" stroke="#000" stroke-width="1.68" transform="rotate(25 524 59.5)"/>
<ellipse cx="524.2" cy="59.6" rx="1.9" ry="3.0" fill="#fff" stroke="#000" stroke-width="1.23" transform="rotate(25 524.2 59.6)"/>
<path d="M 534.7,37.6 L 541.3,33.3 L 547,35.6 L 541.6,41.4 Z" fill="#fff" stroke="#000" stroke-width="1.12" stroke-linejoin="round" stroke-linecap="round" />
<path d="M 541.6,41.4 L 547,35.6 Q 549.4,32.6 552.4,33 Q 555.4,34.4 555,38.6 Q 554,43.4 549.6,45 Q 545,45 541.6,41.4 Z" fill="#fff" stroke="#000" stroke-width="1.23" stroke-linejoin="round" stroke-linecap="round" />
<path d="M 547,35.6 Q 544.4,38.4 545.6,41.4 Q 546.6,44 549.6,45" fill="none" stroke="#000" stroke-width="1.01" stroke-linejoin="round" stroke-linecap="round" />
<ellipse cx="540.8" cy="37.2" rx="1.5" ry="1.0" fill="#fff" stroke="#000" stroke-width="0.9" transform="rotate(-25 540.8 37.2)"/>
<line x1="534.7" y1="37.6" x2="535.8" y2="39.4" stroke="#000" stroke-width="0.9"/>
<line x1="535.8" y1="39.4" x2="542.4" y2="42.4" stroke="#000" stroke-width="0.9"/>
<path d="M 417.9,309.1 A 3.2,5.2 30.0 0 1 423.1,300.1 L 459.4,321.1 A 3.2,5.2 30.0 0 1 454.2,330.1 Z" fill="#fff" stroke="#000" stroke-width="1.23" stroke-linejoin="round" stroke-linecap="round" />
<ellipse cx="456.8" cy="325.6" rx="3.2" ry="5.2" fill="#fff" stroke="#000" stroke-width="1.23" transform="rotate(30.0 456.8 325.6)"/>
<path d="M 356.8,334.2 A 5.5,8.8 30.3 0 1 365.6,319.0 L 402.6,340.6 A 5.5,8.8 30.3 0 1 393.8,355.8 Z" fill="#fff" stroke="#000" stroke-width="1.4" stroke-linejoin="round" stroke-linecap="round" />
<ellipse cx="398.2" cy="348.2" rx="5.5" ry="8.8" fill="#fff" stroke="#000" stroke-width="1.4" transform="rotate(30.3 398.2 348.2)"/>
<path d="M 525.4,277.6 Q 525,272.4 529.6,271.2 L 533.4,271.6 Q 537,273 536.8,277.4 L 536.6,280.2 L 540.8,280.8 L 537.3,284.8 L 530.7,282.2 Q 526,281.4 525.4,277.6 Z" fill="#fff" stroke="#000" stroke-width="1.68" stroke-linejoin="round" stroke-linecap="round" />
<ellipse cx="528.6" cy="277.2" rx="2.3" ry="3.2" fill="#fff" stroke="#000" stroke-width="1.46" transform="rotate(-15 528.6 277.2)"/>
<path d="M 533.4,271.6 Q 535,276 532.6,280.4 L 536.6,280.2 M 532.6,280.4 L 530.7,282.2" fill="none" stroke="#000" stroke-width="1.23" stroke-linejoin="round" stroke-linecap="round" />
<ellipse cx="536.6" cy="282.2" rx="1.1" ry="0.8" fill="#fff" stroke="#000" stroke-width="0.9" transform="rotate(0 536.6 282.2)"/>
<ellipse cx="494.8" cy="299.2" rx="8.4" ry="4.3" fill="#fff" stroke="#000" stroke-width="2.24" transform="rotate(27 494.8 299.2)"/>
<line x1="497" y1="294.5" x2="514.5" y2="305.2" stroke="#000" stroke-width="2.46"/>
<ellipse cx="497.8" cy="294.6" rx="1.6" ry="1.6" fill="#fff" stroke="#000" stroke-width="1.12" transform="rotate(0 497.8 294.6)"/>
<line x1="546" y1="320.6" x2="551" y2="323" stroke="#000" stroke-width="0.78"/>
<path d="M 541.09,319.15 L 542.05,316.57 L 543.44,315.77 L 546.15,316.22 L 547.9,319.25 L 546.94,321.83 L 545.55,322.63 L 542.84,322.18 Z" fill="#fff" stroke="#000" stroke-width="1.12" stroke-linejoin="round" stroke-linecap="round" />
<line x1="542.05" y1="316.57" x2="543.44" y2="315.77" stroke="#000" stroke-width="0.9"/>
<line x1="541.09" y1="319.15" x2="542.47" y2="318.35" stroke="#000" stroke-width="0.9"/>
<line x1="542.84" y1="322.18" x2="544.22" y2="321.38" stroke="#000" stroke-width="0.9"/>
<line x1="545.55" y1="322.63" x2="546.94" y2="321.83" stroke="#000" stroke-width="0.9"/>
<line x1="546.51" y1="320.05" x2="547.9" y2="319.25" stroke="#000" stroke-width="0.9"/>
<line x1="544.76" y1="317.02" x2="546.15" y2="316.22" stroke="#000" stroke-width="0.9"/>
<path d="M 542.05,316.57 L 541.09,319.15 L 542.84,322.18 L 545.55,322.63 L 546.51,320.05 L 544.76,317.02 Z" fill="#fff" stroke="#000" stroke-width="1.12" stroke-linejoin="round" stroke-linecap="round" />
<ellipse cx="543.4" cy="319.8" rx="1.5" ry="2.0" fill="#fff" stroke="#000" stroke-width="1.68" transform="rotate(-30 543.4 319.8)"/>
<path d="M 551.5,323.4 L 560.3,328.4" fill="none" stroke="#000" stroke-width="4.4" stroke-linejoin="round" stroke-linecap="butt"/>
<path d="M 551.5,323.4 L 560.3,328.4" fill="none" stroke="#fff" stroke-width="2.6" stroke-linejoin="round" stroke-linecap="butt"/>
<ellipse cx="551.5" cy="323.4" rx="1.1" ry="1.8" fill="#fff" stroke="#000" stroke-width="1.01" transform="rotate(29.6 551.5 323.4)"/>
<path d="M 558.8,331.0 A 1.8,3.0 29.7 0 1 561.8,325.8 L 563.9,327.0 A 1.8,3.0 29.7 0 1 560.9,332.2 Z" fill="#fff" stroke="#000" stroke-width="1.12" stroke-linejoin="round" stroke-linecap="round" />
<ellipse cx="562.4" cy="329.6" rx="1.8" ry="3.0" fill="#fff" stroke="#000" stroke-width="1.12" transform="rotate(29.7 562.4 329.6)"/>
<ellipse cx="562.4" cy="329.6" rx="0.9" ry="1.5" fill="#fff" stroke="#000" stroke-width="0.9" transform="rotate(29.7 562.4 329.6)"/>
<line x1="530.7" y1="340.5" x2="536" y2="343.4" stroke="#000" stroke-width="0.78"/>
<path d="M 536,343.4 L 540.6,345.9" fill="none" stroke="#000" stroke-width="4.0" stroke-linejoin="round" stroke-linecap="butt"/>
<path d="M 536,343.4 L 540.6,345.9" fill="none" stroke="#fff" stroke-width="2.2" stroke-linejoin="round" stroke-linecap="butt"/>
<ellipse cx="536" cy="343.4" rx="0.9" ry="1.6" fill="#fff" stroke="#000" stroke-width="1.01" transform="rotate(28.5 536 343.4)"/>
<path d="M 539.1,348.4 A 1.7,2.9 30.1 0 1 542.1,343.4 L 544.0,344.5 A 1.7,2.9 30.1 0 1 541.0,349.5 Z" fill="#fff" stroke="#000" stroke-width="1.12" stroke-linejoin="round" stroke-linecap="round" />
<ellipse cx="542.5" cy="347.0" rx="1.7" ry="2.9" fill="#fff" stroke="#000" stroke-width="1.12" transform="rotate(30.1 542.5 347.0)"/>
<ellipse cx="542.5" cy="347.0" rx="0.9" ry="1.4" fill="#fff" stroke="#000" stroke-width="0.9" transform="rotate(30.1 542.5 347.0)"/>
<line x1="504.7" y1="356.2" x2="510" y2="359.0" stroke="#000" stroke-width="0.78"/>
<path d="M 510,359.0 L 515.6,362.0" fill="none" stroke="#000" stroke-width="4.0" stroke-linejoin="round" stroke-linecap="butt"/>
<path d="M 510,359.0 L 515.6,362.0" fill="none" stroke="#fff" stroke-width="2.2" stroke-linejoin="round" stroke-linecap="butt"/>
<ellipse cx="510" cy="359.0" rx="0.9" ry="1.6" fill="#fff" stroke="#000" stroke-width="1.01" transform="rotate(28.2 510 359.0)"/>
<path d="M 514.2,364.6 A 1.7,2.9 27.8 0 1 517.0,359.4 L 518.9,360.4 A 1.7,2.9 27.8 0 1 516.1,365.6 Z" fill="#fff" stroke="#000" stroke-width="1.12" stroke-linejoin="round" stroke-linecap="round" />
<ellipse cx="517.5" cy="363.0" rx="1.7" ry="2.9" fill="#fff" stroke="#000" stroke-width="1.12" transform="rotate(27.8 517.5 363.0)"/>
<ellipse cx="517.5" cy="363.0" rx="0.9" ry="1.4" fill="#fff" stroke="#000" stroke-width="0.9" transform="rotate(27.8 517.5 363.0)"/>
<line x1="455" y1="370" x2="461" y2="373" stroke="#000" stroke-width="0.78"/>
<path d="M 461,373 L 476.4,381.4" fill="none" stroke="#000" stroke-width="7.300000000000001" stroke-linejoin="round" stroke-linecap="butt"/>
<path d="M 461,373 L 476.4,381.4" fill="none" stroke="#fff" stroke-width="5.1" stroke-linejoin="round" stroke-linecap="butt"/>
<ellipse cx="461.2" cy="373.1" rx="1.9" ry="3.1" fill="#fff" stroke="#000" stroke-width="1.12" transform="rotate(28 461.2 373.1)"/>
<path d="M 472.63,384.04 L 476.08,378.06 L 481.01,376.92 L 484.65,379.02 L 486.13,383.86 L 482.68,389.84 L 477.75,390.98 L 474.11,388.88 Z" fill="#fff" stroke="#000" stroke-width="1.23" stroke-linejoin="round" stroke-linecap="round" />
<line x1="477.75" y1="390.98" x2="474.11" y2="388.88" stroke="#000" stroke-width="0.99"/>
<line x1="482.68" y1="389.84" x2="479.05" y2="387.74" stroke="#000" stroke-width="0.99"/>
<line x1="486.13" y1="383.86" x2="482.5" y2="381.76" stroke="#000" stroke-width="0.99"/>
<line x1="484.65" y1="379.02" x2="481.01" y2="376.92" stroke="#000" stroke-width="0.99"/>
<line x1="479.72" y1="380.16" x2="476.08" y2="378.06" stroke="#000" stroke-width="0.99"/>
<line x1="476.27" y1="386.14" x2="472.63" y2="384.04" stroke="#000" stroke-width="0.99"/>
<path d="M 477.75,390.98 L 482.68,389.84 L 486.13,383.86 L 484.65,379.02 L 479.72,380.16 L 476.27,386.14 Z" fill="#fff" stroke="#000" stroke-width="1.23" stroke-linejoin="round" stroke-linecap="round" />
<line x1="408.3" y1="389.3" x2="413" y2="391.8" stroke="#000" stroke-width="0.78"/>
<path d="M 413,391.8 L 439,405.8" fill="none" stroke="#000" stroke-width="4.5" stroke-linejoin="round" stroke-linecap="butt"/>
<path d="M 413,391.8 L 439,405.8" fill="none" stroke="#fff" stroke-width="2.7" stroke-linejoin="round" stroke-linecap="butt"/>
<ellipse cx="413.2" cy="391.9" rx="1.1" ry="1.8" fill="#fff" stroke="#000" stroke-width="0.9" transform="rotate(28 413.2 391.9)"/>
<path d="M 437.5,408.4 A 1.8,3.0 30.3 0 1 440.5,403.2 L 442.9,404.6 A 1.8,3.0 30.3 0 1 439.9,409.8 Z" fill="#fff" stroke="#000" stroke-width="1.12" stroke-linejoin="round" stroke-linecap="round" />
<ellipse cx="441.4" cy="407.2" rx="1.8" ry="3.0" fill="#fff" stroke="#000" stroke-width="1.12" transform="rotate(30.3 441.4 407.2)"/>
<ellipse cx="441.4" cy="407.2" rx="0.9" ry="1.5" fill="#fff" stroke="#000" stroke-width="0.9" transform="rotate(30.3 441.4 407.2)"/>
<path d="M 97.5,391.5 L 114.5,381.2 L 117.5,382 L 118.5,379.2 L 124.8,375.4 L 125.2,372.6 L 152,356.8 L 153.2,359.6 L 183.5,342.4 L 186,346.6 L 214.8,329.6 L 217.2,328.2 L 220.4,331.2 L 220.4,367.8 L 216,370.2 L 204.6,365.2 L 163,390.3 L 144,411 L 141.7,411 L 116.3,425.8 L 92.5,438.7 L 89.2,436.7 L 89.2,430.8 L 97.5,425.8 Z" fill="#fff" stroke="#000" stroke-width="1.23" stroke-linejoin="round" stroke-linecap="round" />
<path d="M 107.5,393.6 L 217.2,328.2 M 105,391.4 L 214.8,329.6 M 100.8,392.4 L 117.5,382 M 104.2,394 L 107.5,393.6" fill="none" stroke="#000" stroke-width="1.01" stroke-linejoin="round" stroke-linecap="round" />
<path d="M 125.2,372.6 L 126.6,375.8 L 152.8,360 M 118.5,379.2 L 120.4,381.4 L 126.6,377.6 M 153.2,359.6 L 184,344.2" fill="none" stroke="#000" stroke-width="0.9" stroke-linejoin="round" stroke-linecap="round" />
<path d="M 100.8,392.4 L 100.8,423.6 M 104.2,394 L 104.2,419.5 Q 104.4,422 106.7,420.5 L 106.7,394.4 M 109.2,393.4 L 109.2,420 L 98.4,426" fill="none" stroke="#000" stroke-width="1.01" stroke-linejoin="round" stroke-linecap="round" />
<path d="M 89.2,430.8 L 91.8,432.6 L 91.8,438.3 M 91.8,432.6 L 109.5,422.2 L 116.3,425.8" fill="none" stroke="#000" stroke-width="1.01" stroke-linejoin="round" stroke-linecap="round" />
<path d="M 116.3,425.8 L 123,413 L 163,390.3" fill="none" stroke="#000" stroke-width="1.01" stroke-linejoin="round" stroke-linecap="round" />
<path d="M 141.7,411 L 163,390.3 L 145.4,410.6 Z" fill="#000" stroke="#000" stroke-width="0.9" stroke-linejoin="round" stroke-linecap="round" />
<ellipse cx="133.4" cy="411.6" rx="2.6" ry="3.0" fill="#fff" stroke="#000" stroke-width="1.01" transform="rotate(0 133.4 411.6)"/>
<path d="M 140,404.4 Q 139,408 142,410.6" fill="none" stroke="#000" stroke-width="0.9" stroke-linejoin="round" stroke-linecap="round" />
<ellipse cx="216" cy="337.5" rx="0.9" ry="1.1" fill="#fff" stroke="#000" stroke-width="0.9" transform="rotate(0 216 337.5)"/>
<ellipse cx="215.5" cy="364.3" rx="0.9" ry="1.1" fill="#fff" stroke="#000" stroke-width="0.9" transform="rotate(0 215.5 364.3)"/>
<ellipse cx="181.7" cy="357.3" rx="0.9" ry="1.1" fill="#fff" stroke="#000" stroke-width="0.9" transform="rotate(0 181.7 357.3)"/>
<ellipse cx="147.6" cy="377.2" rx="0.9" ry="1.1" fill="#fff" stroke="#000" stroke-width="0.9" transform="rotate(0 147.6 377.2)"/>
<ellipse cx="113.4" cy="397.2" rx="0.9" ry="1.1" fill="#fff" stroke="#000" stroke-width="0.9" transform="rotate(0 113.4 397.2)"/>
<ellipse cx="113.6" cy="421.6" rx="0.9" ry="1.1" fill="#fff" stroke="#000" stroke-width="0.9" transform="rotate(0 113.6 421.6)"/>
<ellipse cx="95.6" cy="432.6" rx="0.9" ry="1.1" fill="#fff" stroke="#000" stroke-width="0.9" transform="rotate(0 95.6 432.6)"/>
<line x1="115.8" y1="425.8" x2="153.5" y2="447.6" stroke="#000" stroke-width="0.78"/>
<path d="M 152.8,421.5 L 154.4,420 L 160,417.3 Q 163,416.4 164.7,418 Q 166.6,418.8 168,415 L 170,411.3 Q 171.4,408.4 173.3,408 L 178.7,406.7 Q 181,406.6 182,409.3 Q 183.6,410 184.8,406 L 186,402.7 Q 187,401 188,400.7 L 195.3,396.7 Q 198,396.4 200,399.3 Q 201.4,399.8 202.4,396 L 203.3,393.3 Q 204.4,391.6 205.3,391.3 L 262.5,358.2 L 266,360.6 L 266,393.2 L 261.3,396.2 L 241.5,388.5 L 175,428.2 L 162.2,452.7 L 157.5,456.4 L 152.8,456.4 Z" fill="#fff" stroke="#000" stroke-width="1.23" stroke-linejoin="round" stroke-linecap="round" />
<path d="M 154.6,423 155.7,422.0 L 161.3,419.3 Q 164.3,418.4 166.0,420.0 Q 167.9,420.8 169.3,417.0 L 171.3,413.3 Q 172.7,410.4 174.6,410.0 L 180.0,408.7 Q 182.3,408.6 183.3,411.3 Q 184.9,412.0 186.1,408.0 L 187.3,404.7 Q 188.3,403.0 189.3,402.7 L 196.6,398.7 Q 199.3,398.4 201.3,401.3 Q 202.7,401.8 203.7,398.0 L 204.6,395.3 Q 205.7,393.6 206.6,393.3 L 263.8,360.2 M 154.6,423 L 154.6,455.4" fill="none" stroke="#000" stroke-width="0.9" stroke-linejoin="round" stroke-linecap="round" />
<ellipse cx="159.3" cy="424.6" rx="2.0" ry="2.6" fill="#fff" stroke="#000" stroke-width="1.12" transform="rotate(-20 159.3 424.6)"/>
<ellipse cx="159.5" cy="424.6" rx="1.0" ry="1.4" fill="#fff" stroke="#000" stroke-width="0.9" transform="rotate(-20 159.5 424.6)"/>
<ellipse cx="159.8" cy="450.8" rx="2.0" ry="2.6" fill="#fff" stroke="#000" stroke-width="1.12" transform="rotate(-20 159.8 450.8)"/>
<ellipse cx="160.0" cy="450.8" rx="1.0" ry="1.4" fill="#fff" stroke="#000" stroke-width="0.9" transform="rotate(-20 160.0 450.8)"/>
<ellipse cx="193.3" cy="404.7" rx="2.0" ry="2.6" fill="#fff" stroke="#000" stroke-width="1.12" transform="rotate(-20 193.3 404.7)"/>
<ellipse cx="193.5" cy="404.7" rx="1.0" ry="1.4" fill="#fff" stroke="#000" stroke-width="0.9" transform="rotate(-20 193.5 404.7)"/>
<ellipse cx="228" cy="384.7" rx="2.0" ry="2.6" fill="#fff" stroke="#000" stroke-width="1.12" transform="rotate(-20 228 384.7)"/>
<ellipse cx="228.2" cy="384.7" rx="1.0" ry="1.4" fill="#fff" stroke="#000" stroke-width="0.9" transform="rotate(-20 228.2 384.7)"/>
<ellipse cx="261.3" cy="365.2" rx="2.0" ry="2.6" fill="#fff" stroke="#000" stroke-width="1.12" transform="rotate(-20 261.3 365.2)"/>
<ellipse cx="261.5" cy="365.2" rx="1.0" ry="1.4" fill="#fff" stroke="#000" stroke-width="0.9" transform="rotate(-20 261.5 365.2)"/>
<ellipse cx="261.8" cy="392" rx="2.0" ry="2.6" fill="#fff" stroke="#000" stroke-width="1.12" transform="rotate(-20 261.8 392)"/>
<ellipse cx="262.0" cy="392" rx="1.0" ry="1.4" fill="#fff" stroke="#000" stroke-width="0.9" transform="rotate(-20 262.0 392)"/>
<path d="M 173.0,418.1 A 3.2,4.5 29.9 0 1 177.4,410.3 L 181.4,412.6 A 3.2,4.5 29.9 0 1 177.0,420.4 Z" fill="#fff" stroke="#000" stroke-width="1.23" stroke-linejoin="round" stroke-linecap="round" />
<ellipse cx="179.2" cy="416.5" rx="3.2" ry="4.5" fill="#fff" stroke="#000" stroke-width="1.23" transform="rotate(29.9 179.2 416.5)"/>
<ellipse cx="179.2" cy="416.5" rx="1.6" ry="2.2" fill="#fff" stroke="#000" stroke-width="0.99" transform="rotate(29.9 179.2 416.5)"/>
<ellipse cx="179.4" cy="416.6" rx="0.9" ry="1.2" fill="#fff" stroke="#000" stroke-width="0.78" transform="rotate(-30 179.4 416.6)"/>
<path d="M 207.6,398.1 A 3.2,4.5 29.9 0 1 212.0,390.3 L 216.0,392.6 A 3.2,4.5 29.9 0 1 211.6,400.4 Z" fill="#fff" stroke="#000" stroke-width="1.23" stroke-linejoin="round" stroke-linecap="round" />
<ellipse cx="213.8" cy="396.5" rx="3.2" ry="4.5" fill="#fff" stroke="#000" stroke-width="1.23" transform="rotate(29.9 213.8 396.5)"/>
<ellipse cx="213.8" cy="396.5" rx="1.6" ry="2.2" fill="#fff" stroke="#000" stroke-width="0.99" transform="rotate(29.9 213.8 396.5)"/>
<ellipse cx="214" cy="396.6" rx="0.9" ry="1.2" fill="#fff" stroke="#000" stroke-width="0.78" transform="rotate(-30 214 396.6)"/>
<path d="M 242.4,377.7 A 3.2,4.5 29.9 0 1 246.8,369.9 L 250.8,372.2 A 3.2,4.5 29.9 0 1 246.4,380.0 Z" fill="#fff" stroke="#000" stroke-width="1.23" stroke-linejoin="round" stroke-linecap="round" />
<ellipse cx="248.6" cy="376.1" rx="3.2" ry="4.5" fill="#fff" stroke="#000" stroke-width="1.23" transform="rotate(29.9 248.6 376.1)"/>
<ellipse cx="248.6" cy="376.1" rx="1.6" ry="2.2" fill="#fff" stroke="#000" stroke-width="0.99" transform="rotate(29.9 248.6 376.1)"/>
<ellipse cx="248.8" cy="376.20000000000005" rx="0.9" ry="1.2" fill="#fff" stroke="#000" stroke-width="0.78" transform="rotate(-30 248.8 376.20000000000005)"/>
<line x1="252" y1="378" x2="300" y2="405.5" stroke="#000" stroke-width="0.78"/>
<path d="M 130.5,441.1 A 3.5,5.7 30.3 0 1 136.3,431.3 L 144.5,436.1 A 3.5,5.7 30.3 0 1 138.7,445.9 Z" fill="#fff" stroke="#000" stroke-width="1.34" stroke-linejoin="round" stroke-linecap="round" />
<ellipse cx="141.6" cy="441.0" rx="3.5" ry="5.7" fill="#fff" stroke="#000" stroke-width="1.34" transform="rotate(30.3 141.6 441.0)"/>
<ellipse cx="141.6" cy="441.0" rx="1.8" ry="2.9" fill="#fff" stroke="#000" stroke-width="1.08" transform="rotate(30.3 141.6 441.0)"/>
<ellipse cx="141.7" cy="441.1" rx="0.9" ry="1.4" fill="#fff" stroke="#000" stroke-width="0.9" transform="rotate(30 141.7 441.1)"/>
<ellipse cx="136.0" cy="437.7" rx="3.5" ry="5.7" fill="none" stroke="#000" stroke-width="1.9" transform="rotate(30 136.0 437.7)"/>
<ellipse cx="138.2" cy="439.0" rx="3.5" ry="5.7" fill="none" stroke="#000" stroke-width="1.34" transform="rotate(30 138.2 439.0)"/>
<line x1="171.6" y1="458" x2="177" y2="460.6" stroke="#000" stroke-width="0.78"/>
<ellipse cx="168.7" cy="456.4" rx="3.3" ry="5.0" fill="#fff" stroke="#000" stroke-width="1.68" transform="rotate(25 168.7 456.4)"/>
<ellipse cx="168.8" cy="456.5" rx="1.0" ry="1.6" fill="#fff" stroke="#000" stroke-width="1.01" transform="rotate(25 168.8 456.5)"/>
<path d="M 177,460.6 L 186.6,465.8" fill="none" stroke="#000" stroke-width="3.6999999999999997" stroke-linejoin="round" stroke-linecap="butt"/>
<path d="M 177,460.6 L 186.6,465.8" fill="none" stroke="#fff" stroke-width="1.9" stroke-linejoin="round" stroke-linecap="butt"/>
<path d="M 185.1,468.6 A 2.0,3.2 28.9 0 1 188.1,463.0 L 191.9,465.1 A 2.0,3.2 28.9 0 1 188.9,470.7 Z" fill="#fff" stroke="#000" stroke-width="1.23" stroke-linejoin="round" stroke-linecap="round" />
<ellipse cx="190.4" cy="467.9" rx="2.0" ry="3.2" fill="#fff" stroke="#000" stroke-width="1.23" transform="rotate(28.9 190.4 467.9)"/>
<ellipse cx="190.4" cy="467.9" rx="1.0" ry="1.6" fill="#fff" stroke="#000" stroke-width="0.99" transform="rotate(28.9 190.4 467.9)"/>
<path d="M 256,474 Q 258,481 262,480.5 L 262,476 Z" fill="#fff" stroke="#000" stroke-width="1.12" stroke-linejoin="round" stroke-linecap="round" />
<path d="M 266.5,468.5 Q 268,471.8 278,471.4 Q 290.5,469.4 292.4,459.4 L 292.4,452 L 266.5,465 Z" fill="#fff" stroke="#000" stroke-width="1.12" stroke-linejoin="round" stroke-linecap="round" />
<path d="M 225.6,443.2 L 231.6,439.4 L 242.2,445.8 L 243.0,454.8 L 234.6,460.59999999999997 L 225.0,461.59999999999997 L 225.8,455.8 L 224.2,454.8 L 224.6,452.2 Z" fill="#fff" stroke="#000" stroke-width="1.12" stroke-linejoin="round" stroke-linecap="round" />
<path d="M 225.6,443.2 L 235.4,449.0 L 242.2,445.8 M 235.4,449.0 L 234.6,460.59999999999997" fill="none" stroke="#000" stroke-width="1.12" stroke-linejoin="round" stroke-linecap="round" />
<ellipse cx="239.0" cy="451.2" rx="1.4" ry="1.9" fill="#fff" stroke="#000" stroke-width="1.01" transform="rotate(-15 239.0 451.2)"/>
<path d="M 260.40000000000003,423.2 L 266.40000000000003,419.4 L 277.0,425.8 L 277.8,434.8 L 269.40000000000003,440.59999999999997 L 259.8,441.59999999999997 L 260.6,435.8 L 259.0,434.8 L 259.40000000000003,432.2 Z" fill="#fff" stroke="#000" stroke-width="1.12" stroke-linejoin="round" stroke-linecap="round" />
<path d="M 260.40000000000003,423.2 L 270.2,429.0 L 277.0,425.8 M 270.2,429.0 L 269.40000000000003,440.59999999999997" fill="none" stroke="#000" stroke-width="1.12" stroke-linejoin="round" stroke-linecap="round" />
<ellipse cx="273.8" cy="431.2" rx="1.4" ry="1.9" fill="#fff" stroke="#000" stroke-width="1.01" transform="rotate(-15 273.8 431.2)"/>
<path d="M 295.40000000000003,403 L 301.40000000000003,399.2 L 312.0,405.6 L 312.8,414.6 L 304.40000000000003,420.4 L 294.8,421.4 L 295.6,415.6 L 294.0,414.6 L 294.40000000000003,412 Z" fill="#fff" stroke="#000" stroke-width="1.12" stroke-linejoin="round" stroke-linecap="round" />
<path d="M 295.40000000000003,403 L 305.2,408.8 L 312.0,405.6 M 305.2,408.8 L 304.40000000000003,420.4" fill="none" stroke="#000" stroke-width="1.12" stroke-linejoin="round" stroke-linecap="round" />
<ellipse cx="308.8" cy="411" rx="1.4" ry="1.9" fill="#fff" stroke="#000" stroke-width="1.01" transform="rotate(-15 308.8 411)"/>
<path d="M 226,461.1 L 234.6,456.2 L 234.6,458.8 L 226,463.7 Z" fill="#fff" stroke="none"/>
<line x1="226" y1="461.1" x2="230.5" y2="458.6" stroke="#000" stroke-width="1.01"/>
<path d="M 243,451.5 L 269.4,436.5 L 269.4,439.1 L 243,454.1 Z" fill="#fff" stroke="none"/>
<line x1="243" y1="451.5" x2="265" y2="439.0" stroke="#000" stroke-width="1.01"/>
<path d="M 277.8,431.8 L 304.4,416.7 L 304.4,419.3 L 277.8,434.4 Z" fill="#fff" stroke="none"/>
<line x1="277.8" y1="431.8" x2="300" y2="419.2" stroke="#000" stroke-width="1.01"/>
<path d="M 312.8,412.0 L 320,407.9 L 320,410.5 L 312.8,414.6 Z" fill="#fff" stroke="none"/>
<line x1="312.8" y1="412.0" x2="318" y2="409.0" stroke="#000" stroke-width="1.01"/>
<path d="M 226,463.7 L 318,411.6 L 328,430 L 310,456 L 300,449.8 L 246.7,480.0 Z" fill="#fff" stroke="none"/>
<line x1="226" y1="463.7" x2="317" y2="412.2" stroke="#000" stroke-width="1.12"/>
<line x1="236" y1="471.0" x2="305" y2="432.0" stroke="#000" stroke-width="1.12"/>
<line x1="246.7" y1="480.0" x2="300" y2="449.8" stroke="#000" stroke-width="1.12"/>
<path d="M 317,410.2 L 332.6,416.8 Q 339.6,421 339.2,426.6 Q 338.6,431 335.4,432.6 L 318.4,441.8 Z" fill="#fff" stroke="none"/>
<path d="M 317,410.2 L 332.6,416.8 Q 339.6,421 339.2,426.6 Q 338.6,431 335.4,432.6 L 318.4,441.8" fill="none" stroke="#000" stroke-width="1.12" stroke-linejoin="round" stroke-linecap="round" />
<path d="M 317.4,418.6 Q 326.4,421.6 327.6,428.6 Q 328,434.6 325,438.4" fill="none" stroke="#000" stroke-width="1.57" stroke-linejoin="round" stroke-linecap="round" />
<path d="M 322.6,412.6 Q 331,417 330.6,425.6" fill="none" stroke="#000" stroke-width="0.9" stroke-linejoin="round" stroke-linecap="round" />
<path d="M 304.6,431.8 L 316.2,438.8 L 309.4,457.4 L 302.4,454 Q 298.4,445 299.4,436.4 Q 301,432.6 304.6,431.8 Z" fill="#fff" stroke="#000" stroke-width="1.12" stroke-linejoin="round" stroke-linecap="round" />
<ellipse cx="312.8" cy="448" rx="7.3" ry="9.0" fill="#fff" stroke="#000" stroke-width="1.23" transform="rotate(18 312.8 448)"/>
<ellipse cx="313" cy="448.2" rx="4.1" ry="5.4" fill="#fff" stroke="#000" stroke-width="1.12" transform="rotate(18 313 448.2)"/>
<path d="M 207.4,472 L 223.3,463.2 L 223.3,486 L 214,490.2 Z" fill="#fff" stroke="#000" stroke-width="1.12" stroke-linejoin="round" stroke-linecap="round" />
<ellipse cx="210.8" cy="480.8" rx="8.0" ry="9.5" fill="#fff" stroke="#000" stroke-width="1.23" transform="rotate(-22 210.8 480.8)"/>
<ellipse cx="210.6" cy="480.9" rx="4.8" ry="5.9" fill="#fff" stroke="#000" stroke-width="1.12" transform="rotate(-22 210.6 480.9)"/>
<path d="M 222.5,465.8 L 243.3,477.6 L 239.6,494.4 L 222.5,485.8 Z" fill="#fff" stroke="#000" stroke-width="1.12" stroke-linejoin="round" stroke-linecap="round" />
<line x1="224" y1="486.6" x2="239.6" y2="494.4" stroke="#000" stroke-width="2.02"/>
<ellipse cx="245.2" cy="486.4" rx="7.6" ry="9.6" fill="#fff" stroke="#000" stroke-width="1.23" transform="rotate(18 245.2 486.4)"/>
<ellipse cx="245.4" cy="486.6" rx="4.5" ry="5.6" fill="#fff" stroke="#000" stroke-width="1.12" transform="rotate(18 245.4 486.6)"/>
<line x1="337" y1="418.2" x2="360" y2="405" stroke="#000" stroke-width="0.78"/>
<line x1="313" y1="448" x2="402" y2="499" stroke="#000" stroke-width="0.78"/>
<line x1="245.4" y1="486.6" x2="312" y2="525" stroke="#000" stroke-width="0.78"/>
<line x1="176" y1="501" x2="211" y2="480.6" stroke="#000" stroke-width="0.78"/>
<line x1="238.5" y1="494" x2="238.5" y2="524" stroke="#000" stroke-width="0.9"/>
<line x1="428.5" y1="461" x2="428.5" y2="483" stroke="#000" stroke-width="0.9"/>
<line x1="322.5" y1="546" x2="322.5" y2="575" stroke="#000" stroke-width="0.9"/>
<ellipse cx="347" cy="413" rx="4.7" ry="6.4" fill="none" stroke="#000" stroke-width="1.9" transform="rotate(-20 347 413)"/>
<ellipse cx="337.6" cy="461.6" rx="4.6" ry="6.1" fill="none" stroke="#000" stroke-width="1.9" transform="rotate(20 337.6 461.6)"/>
<ellipse cx="272.4" cy="502" rx="4.7" ry="6.2" fill="none" stroke="#000" stroke-width="1.9" transform="rotate(20 272.4 502)"/>
<ellipse cx="195.6" cy="489.4" rx="4.8" ry="5.9" fill="none" stroke="#000" stroke-width="1.9" transform="rotate(-20 195.6 489.4)"/>
<ellipse cx="238.5" cy="512.6" rx="6.1" ry="3.2" fill="none" stroke="#000" stroke-width="1.68" transform="rotate(0 238.5 512.6)"/>
<ellipse cx="369" cy="480.5" rx="2.0" ry="2.9" fill="none" stroke="#000" stroke-width="1.57" transform="rotate(20 369 480.5)"/>
<ellipse cx="303.6" cy="520" rx="1.9" ry="2.8" fill="none" stroke="#000" stroke-width="1.57" transform="rotate(20 303.6 520)"/>
<ellipse cx="397" cy="496.5" rx="2.6" ry="3.6" fill="none" stroke="#000" stroke-width="1.68" transform="rotate(20 397 496.5)"/>
<ellipse cx="428.6" cy="473.2" rx="4.2" ry="2.3" fill="none" stroke="#000" stroke-width="1.68" transform="rotate(0 428.6 473.2)"/>
<ellipse cx="322.4" cy="553.6" rx="3.3" ry="2.0" fill="none" stroke="#000" stroke-width="1.68" transform="rotate(0 322.4 553.6)"/>
<path d="M 360.45,400.15 L 362.6,393.14 L 365.54,391.44 L 372.69,393.09 L 377.69,401.75 L 375.54,408.76 L 372.6,410.46 L 365.45,408.81 Z" fill="#fff" stroke="#000" stroke-width="1.23" stroke-linejoin="round" stroke-linecap="round" />
<line x1="362.6" y1="393.14" x2="365.54" y2="391.44" stroke="#000" stroke-width="0.99"/>
<line x1="360.45" y1="400.15" x2="363.39" y2="398.45" stroke="#000" stroke-width="0.99"/>
<line x1="365.45" y1="408.81" x2="368.39" y2="407.11" stroke="#000" stroke-width="0.99"/>
<line x1="372.6" y1="410.46" x2="375.54" y2="408.76" stroke="#000" stroke-width="0.99"/>
<line x1="374.75" y1="403.45" x2="377.69" y2="401.75" stroke="#000" stroke-width="0.99"/>
<line x1="369.75" y1="394.79" x2="372.69" y2="393.09" stroke="#000" stroke-width="0.99"/>
<path d="M 362.6,393.14 L 360.45,400.15 L 365.45,408.81 L 372.6,410.46 L 374.75,403.45 L 369.75,394.79 Z" fill="#fff" stroke="#000" stroke-width="1.23" stroke-linejoin="round" stroke-linecap="round" />
<path d="M 363.9,396.0 A 5.0,6.9 149.9 0 1 370.9,408.0 L 365.9,410.9 A 5.0,6.9 149.9 0 1 358.9,398.9 Z" fill="#fff" stroke="#000" stroke-width="1.34" stroke-linejoin="round" stroke-linecap="round" />
<ellipse cx="362.4" cy="404.9" rx="5.0" ry="6.9" fill="#fff" stroke="#000" stroke-width="1.34" transform="rotate(149.9 362.4 404.9)"/>
<ellipse cx="364.0" cy="404.0" rx="5.0" ry="6.9" fill="none" stroke="#000" stroke-width="1.68" transform="rotate(-30 364.0 404.0)"/>
<ellipse cx="365.6" cy="403.0" rx="5.0" ry="6.9" fill="none" stroke="#000" stroke-width="1.34" transform="rotate(-30 365.6 403.0)"/>
<ellipse cx="362.4" cy="404.9" rx="5.0" ry="6.9" fill="#fff" stroke="#000" stroke-width="1.46" transform="rotate(-30 362.4 404.9)"/>
<ellipse cx="362.2" cy="405.0" rx="1.1" ry="1.5" fill="#fff" stroke="#000" stroke-width="0.9" transform="rotate(-30 362.2 405.0)"/>
<path d="M 181.9,504.7 A 4.4,6.6 -30.5 0 1 175.3,493.3 L 178.7,491.3 A 4.4,6.6 -30.5 0 1 185.3,502.7 Z" fill="#fff" stroke="#000" stroke-width="1.34" stroke-linejoin="round" stroke-linecap="round" />
<ellipse cx="182.0" cy="497.0" rx="4.4" ry="6.6" fill="#fff" stroke="#000" stroke-width="1.34" transform="rotate(-30.5 182.0 497.0)"/>
<ellipse cx="179.8" cy="498.2" rx="4.2" ry="6.6" fill="none" stroke="#000" stroke-width="1.79" transform="rotate(-30 179.8 498.2)"/>
<ellipse cx="181.0" cy="497.5" rx="4.2" ry="6.6" fill="none" stroke="#000" stroke-width="1.46" transform="rotate(-30 181.0 497.5)"/>
<path d="M 168.45,503.15 L 168.51,495.15 L 171.28,493.55 L 177.43,491.8 L 183.53,498.05 L 183.47,506.05 L 180.69,507.65 L 174.54,509.4 Z" fill="#fff" stroke="#000" stroke-width="1.29" stroke-linejoin="round" stroke-linecap="round" />
<line x1="168.51" y1="495.15" x2="171.28" y2="493.55" stroke="#000" stroke-width="1.03"/>
<line x1="168.45" y1="503.15" x2="171.22" y2="501.55" stroke="#000" stroke-width="1.03"/>
<line x1="174.54" y1="509.4" x2="177.31" y2="507.8" stroke="#000" stroke-width="1.03"/>
<line x1="180.69" y1="507.65" x2="183.47" y2="506.05" stroke="#000" stroke-width="1.03"/>
<line x1="180.75" y1="499.65" x2="183.53" y2="498.05" stroke="#000" stroke-width="1.03"/>
<line x1="174.66" y1="493.4" x2="177.43" y2="491.8" stroke="#000" stroke-width="1.03"/>
<path d="M 168.51,495.15 L 168.45,503.15 L 174.54,509.4 L 180.69,507.65 L 180.75,499.65 L 174.66,493.4 Z" fill="#fff" stroke="#000" stroke-width="1.29" stroke-linejoin="round" stroke-linecap="round" />
<ellipse cx="174.0" cy="501.7" rx="1.5" ry="2.0" fill="#fff" stroke="#000" stroke-width="1.12" transform="rotate(-30 174.0 501.7)"/>
<path d="M 345.8,474.6 A 4.8,6.8 31.6 0 1 353.0,463.0 L 355.6,464.6 A 4.8,6.8 31.6 0 1 348.4,476.2 Z" fill="#fff" stroke="#000" stroke-width="1.46" stroke-linejoin="round" stroke-linecap="round" />
<ellipse cx="350.0" cy="469.4" rx="4.6" ry="6.7" fill="none" stroke="#000" stroke-width="1.34" transform="rotate(28 350.0 469.4)"/>
<path d="M 350.6,464.4 L 355.6,462 L 362.2,465.4 L 364.4,473 L 361,480.2 L 355.6,482 L 351,478 L 349.4,471 Z" fill="#fff" stroke="#000" stroke-width="1.34" stroke-linejoin="round" stroke-linecap="round" />
<ellipse cx="356.6" cy="472.6" rx="5.2" ry="7.0" fill="#fff" stroke="#000" stroke-width="1.12" transform="rotate(25 356.6 472.6)"/>
<ellipse cx="357" cy="472.8" rx="3.0" ry="4.2" fill="#fff" stroke="#000" stroke-width="1.23" transform="rotate(25 357 472.8)"/>
<path d="M 280.4,514.6 A 4.8,6.8 31.6 0 1 287.6,503.0 L 290.2,504.6 A 4.8,6.8 31.6 0 1 283.0,516.2 Z" fill="#fff" stroke="#000" stroke-width="1.46" stroke-linejoin="round" stroke-linecap="round" />
<ellipse cx="284.6" cy="509.4" rx="4.6" ry="6.7" fill="none" stroke="#000" stroke-width="1.34" transform="rotate(28 284.6 509.4)"/>
<path d="M 285.20000000000005,504.4 L 290.20000000000005,502 L 296.8,505.4 L 299.0,513 L 295.6,520.2 L 290.20000000000005,522 L 285.6,518 L 284.0,511 Z" fill="#fff" stroke="#000" stroke-width="1.34" stroke-linejoin="round" stroke-linecap="round" />
<ellipse cx="291.20000000000005" cy="512.6" rx="5.2" ry="7.0" fill="#fff" stroke="#000" stroke-width="1.12" transform="rotate(25 291.20000000000005 512.6)"/>
<ellipse cx="291.6" cy="512.8" rx="3.0" ry="4.2" fill="#fff" stroke="#000" stroke-width="1.23" transform="rotate(25 291.6 512.8)"/>
<path d="M 376.2,488.4 A 2.5,4.1 29.7 0 1 380.2,481.2 L 383.0,482.8 A 2.5,4.1 29.7 0 1 379.0,490.0 Z" fill="#fff" stroke="#000" stroke-width="1.23" stroke-linejoin="round" stroke-linecap="round" />
<ellipse cx="379.6" cy="485.6" rx="2.4" ry="4.1" fill="none" stroke="#000" stroke-width="1.01" transform="rotate(30 379.6 485.6)"/>
<path d="M 378.5,491.7 A 3.5,5.9 29.7 0 1 384.3,481.5 L 388.5,483.9 A 3.5,5.9 29.7 0 1 382.7,494.1 Z" fill="#fff" stroke="#000" stroke-width="1.46" stroke-linejoin="round" stroke-linecap="round" />
<ellipse cx="385.6" cy="489.0" rx="3.5" ry="5.9" fill="#fff" stroke="#000" stroke-width="1.46" transform="rotate(29.7 385.6 489.0)"/>
<ellipse cx="383.4" cy="487.8" rx="3.5" ry="5.9" fill="none" stroke="#000" stroke-width="1.79" transform="rotate(30 383.4 487.8)"/>
<path d="M 384.3,493.2 A 2.6,4.3 29.9 0 1 388.5,485.8 L 392.5,488.1 A 2.6,4.3 29.9 0 1 388.3,495.5 Z" fill="#fff" stroke="#000" stroke-width="1.34" stroke-linejoin="round" stroke-linecap="round" />
<ellipse cx="390.4" cy="491.8" rx="2.6" ry="4.3" fill="#fff" stroke="#000" stroke-width="1.34" transform="rotate(29.9 390.4 491.8)"/>
<ellipse cx="390.4" cy="491.8" rx="1.3" ry="2.1" fill="#fff" stroke="#000" stroke-width="1.08" transform="rotate(29.9 390.4 491.8)"/>
<line x1="300" y1="405.5" x2="354" y2="436.6" stroke="#000" stroke-width="0.78"/>
<path d="M 354.4,435.8 L 367,443.0" fill="none" stroke="#000" stroke-width="4.5" stroke-linejoin="round" stroke-linecap="butt"/>
<path d="M 354.4,435.8 L 367,443.0" fill="none" stroke="#fff" stroke-width="2.5" stroke-linejoin="round" stroke-linecap="butt"/>
<ellipse cx="354.6" cy="435.9" rx="1.1" ry="1.8" fill="#fff" stroke="#000" stroke-width="0.9" transform="rotate(30 354.6 435.9)"/>
<ellipse cx="369.2" cy="445.4" rx="3.0" ry="4.6" fill="#fff" stroke="#000" stroke-width="1.57" transform="rotate(30 369.2 445.4)"/>
<path d="M 366.51,446.14 L 368.36,442.94 L 371.12,442.4 L 372.85,443.4 L 373.76,446.06 L 371.91,449.26 L 369.15,449.8 L 367.42,448.8 Z" fill="#fff" stroke="#000" stroke-width="1.12" stroke-linejoin="round" stroke-linecap="round" />
<line x1="369.15" y1="449.8" x2="367.42" y2="448.8" stroke="#000" stroke-width="0.9"/>
<line x1="371.91" y1="449.26" x2="370.17" y2="448.26" stroke="#000" stroke-width="0.9"/>
<line x1="373.76" y1="446.06" x2="372.02" y2="445.06" stroke="#000" stroke-width="0.9"/>
<line x1="372.85" y1="443.4" x2="371.12" y2="442.4" stroke="#000" stroke-width="0.9"/>
<line x1="370.09" y1="443.94" x2="368.36" y2="442.94" stroke="#000" stroke-width="0.9"/>
<line x1="368.24" y1="447.14" x2="366.51" y2="446.14" stroke="#000" stroke-width="0.9"/>
<path d="M 369.15,449.8 L 371.91,449.26 L 373.76,446.06 L 372.85,443.4 L 370.09,443.94 L 368.24,447.14 Z" fill="#fff" stroke="#000" stroke-width="1.12" stroke-linejoin="round" stroke-linecap="round" />
<ellipse cx="371.0" cy="446.6" rx="1.1" ry="1.7" fill="#fff" stroke="#000" stroke-width="1.12" transform="rotate(30 371.0 446.6)"/>
<line x1="408.9" y1="438.3" x2="416.9" y2="442.7" stroke="#000" stroke-width="0.78"/>
<path d="M 424.09999999999997,460.1 L 424.09999999999997,462.7 Q 428.5,464.90000000000003 432.9,462.7 L 432.9,460.1 Z" fill="#fff" stroke="#000" stroke-width="1.23" stroke-linejoin="round" stroke-linecap="round" />
<path d="M 418.7,439.1 L 430.4,443.7 L 433.7,445.1 L 433.7,454.3 L 434.9,454.3 L 434.9,457.3 L 431.5,460.1 L 425.5,460.1 L 421.3,457.7 L 421.09999999999997,454.7 L 423.09999999999997,454.7 L 423.09999999999997,451.3 L 416.9,446.90000000000003 Q 414.7,444.3 415.7,441.3 Q 416.7,438.7 418.7,439.1 Z" fill="#fff" stroke="#000" stroke-width="1.34" stroke-linejoin="round" stroke-linecap="round" />
<ellipse cx="418.09999999999997" cy="443.1" rx="2.0" ry="4.2" fill="none" stroke="#000" stroke-width="1.46" transform="rotate(24 418.09999999999997 443.1)"/>
<path d="M 420.29999999999995,439.90000000000003 Q 422.29999999999995,443.7 419.29999999999995,447.90000000000003" fill="none" stroke="#000" stroke-width="1.01" stroke-linejoin="round" stroke-linecap="round" />
<path d="M 421.29999999999995,445.7 L 427.29999999999995,448.90000000000003 M 423.09999999999997,451.3 L 427.29999999999995,448.90000000000003 L 427.29999999999995,456.90000000000003 M 429.5,445.3 L 429.5,449.90000000000003 L 433.7,449.90000000000003 M 429.5,445.3 L 433.7,445.1" fill="none" stroke="#000" stroke-width="1.01" stroke-linejoin="round" stroke-linecap="round" />
<path d="M 421.09999999999997,454.7 L 426.29999999999995,456.90000000000003 L 434.9,454.5 M 426.29999999999995,456.90000000000003 L 426.5,459.90000000000003" fill="none" stroke="#000" stroke-width="1.12" stroke-linejoin="round" stroke-linecap="round" />
<line x1="424.09999999999997" y1="461.5" x2="432.9" y2="461.5" stroke="#000" stroke-width="0.9"/>
<line x1="303.9" y1="521.7" x2="311.9" y2="526.1" stroke="#000" stroke-width="0.78"/>
<path d="M 319.09999999999997,543.5 L 319.09999999999997,546.1 Q 323.5,548.3000000000001 327.9,546.1 L 327.9,543.5 Z" fill="#fff" stroke="#000" stroke-width="1.23" stroke-linejoin="round" stroke-linecap="round" />
<path d="M 313.7,522.5 L 325.4,527.1 L 328.7,528.5 L 328.7,537.7 L 328.9,537.7 L 328.9,540.7 L 326.5,543.5 L 320.5,543.5 L 317.3,541.1 L 317.09999999999997,538.1 L 318.09999999999997,538.1 L 318.09999999999997,534.7 L 311.9,530.3000000000001 Q 309.7,527.7 310.7,524.7 Q 311.7,522.1 313.7,522.5 Z" fill="#fff" stroke="#000" stroke-width="1.34" stroke-linejoin="round" stroke-linecap="round" />
<ellipse cx="313.09999999999997" cy="526.5" rx="2.0" ry="4.2" fill="none" stroke="#000" stroke-width="1.46" transform="rotate(24 313.09999999999997 526.5)"/>
<path d="M 315.29999999999995,523.3000000000001 Q 317.29999999999995,527.1 314.29999999999995,531.3000000000001" fill="none" stroke="#000" stroke-width="1.01" stroke-linejoin="round" stroke-linecap="round" />
<path d="M 316.29999999999995,529.1 L 322.29999999999995,532.3000000000001 M 318.09999999999997,534.7 L 322.29999999999995,532.3000000000001 L 322.29999999999995,540.3000000000001 M 324.5,528.7 L 324.5,533.3000000000001 L 328.7,533.3000000000001 M 324.5,528.7 L 328.7,528.5" fill="none" stroke="#000" stroke-width="1.01" stroke-linejoin="round" stroke-linecap="round" />
<path d="M 317.09999999999997,538.1 L 321.29999999999995,540.3000000000001 L 328.9,537.9000000000001 M 321.29999999999995,540.3000000000001 L 321.5,543.3000000000001" fill="none" stroke="#000" stroke-width="1.12" stroke-linejoin="round" stroke-linecap="round" />
<line x1="319.09999999999997" y1="544.9000000000001" x2="327.9" y2="544.9000000000001" stroke="#000" stroke-width="0.9"/>
<path d="M 228.6,531.6 Q 228.6,527.6 232,525.6 L 244.6,525.6 Q 248.6,527.6 248.6,531.6 L 248.6,546.4 Q 248.2,552.6 243.6,553.8 L 233.8,553.8 Q 229,552.6 228.6,546.4 Z" fill="#fff" stroke="#000" stroke-width="1.34" stroke-linejoin="round" stroke-linecap="round" />
<ellipse cx="238.6" cy="530.4" rx="9.8" ry="5.2" fill="#fff" stroke="#000" stroke-width="1.34" transform="rotate(0 238.6 530.4)"/>
<ellipse cx="238.6" cy="529.2" rx="6.6" ry="3.6" fill="#fff" stroke="#000" stroke-width="1.79" transform="rotate(0 238.6 529.2)"/>
<ellipse cx="238.6" cy="528" rx="3.4" ry="2.0" fill="#fff" stroke="#000" stroke-width="1.12" transform="rotate(0 238.6 528)"/>
<path d="M 228.8,534.6 Q 238.6,542.4 248.4,534.6 M 229,545.6 Q 238.6,553 248.2,545.6 M 231.4,551.2 Q 238.6,556.6 245.8,551.2" fill="none" stroke="#000" stroke-width="1.01" stroke-linejoin="round" stroke-linecap="round" />
<ellipse cx="239.4" cy="580.6" rx="22.7" ry="12" fill="#fff" stroke="#000" stroke-width="1.23" transform="rotate(0 239.4 580.6)"/>
<rect x="216.7" y="577" width="45.4" height="3.6" fill="#fff"/>
<line x1="216.7" y1="577" x2="216.7" y2="580.6" stroke="#000" stroke-width="1.12"/>
<line x1="262.1" y1="577" x2="262.1" y2="580.6" stroke="#000" stroke-width="1.12"/>
<ellipse cx="239.4" cy="577" rx="22.7" ry="12" fill="#fff" stroke="#000" stroke-width="1.34" transform="rotate(0 239.4 577)"/>
<ellipse cx="239.4" cy="577" rx="20.3" ry="10.4" fill="#fff" stroke="#000" stroke-width="2.35" transform="rotate(0 239.4 577)"/>
<ellipse cx="239.4" cy="577.2" rx="12.7" ry="6.5" fill="#fff" stroke="#000" stroke-width="1.57" transform="rotate(0 239.4 577.2)"/>
<ellipse cx="239.4" cy="577.0" rx="10.5" ry="5.1" fill="#fff" stroke="#000" stroke-width="1.12" transform="rotate(0 239.4 577.0)"/>
<path d="M 229.4,578.6 Q 239.4,584.4 249.4,578.6" fill="none" stroke="#000" stroke-width="0.9" stroke-linejoin="round" stroke-linecap="round" />
<ellipse cx="254.4" cy="580.2" rx="1.6" ry="1.3" fill="#fff" stroke="#000" stroke-width="1.12" transform="rotate(0 254.4 580.2)"/>
<ellipse cx="245.7" cy="584.7" rx="1.6" ry="1.3" fill="#fff" stroke="#000" stroke-width="1.12" transform="rotate(0 245.7 584.7)"/>
<ellipse cx="233.3" cy="584.7" rx="1.6" ry="1.3" fill="#fff" stroke="#000" stroke-width="1.12" transform="rotate(0 233.3 584.7)"/>
<ellipse cx="224.5" cy="580.4" rx="1.6" ry="1.3" fill="#fff" stroke="#000" stroke-width="1.12" transform="rotate(0 224.5 580.4)"/>
<ellipse cx="224.4" cy="574.2" rx="1.6" ry="1.3" fill="#fff" stroke="#000" stroke-width="1.12" transform="rotate(0 224.4 574.2)"/>
<ellipse cx="233.1" cy="569.7" rx="1.6" ry="1.3" fill="#fff" stroke="#000" stroke-width="1.12" transform="rotate(0 233.1 569.7)"/>
<ellipse cx="245.5" cy="569.7" rx="1.6" ry="1.3" fill="#fff" stroke="#000" stroke-width="1.12" transform="rotate(0 245.5 569.7)"/>
<ellipse cx="254.3" cy="574.0" rx="1.6" ry="1.3" fill="#fff" stroke="#000" stroke-width="1.12" transform="rotate(0 254.3 574.0)"/>
<line x1="238.5" y1="554" x2="238.5" y2="578" stroke="#000" stroke-width="0.9"/>
<ellipse cx="239" cy="615" rx="17.6" ry="9.8" fill="none" stroke="#000" stroke-width="1.9" transform="rotate(0 239 615)"/>
<line x1="238.5" y1="592.6" x2="238.5" y2="612" stroke="#000" stroke-width="0.9"/>
<path d="M 218,649.5 L 218,731 A 20.8,10.6 0 0 0 259.6,731 L 259.6,649.5 Z" fill="#fff" stroke="#000" stroke-width="1.34" stroke-linejoin="round" stroke-linecap="round" />
<path d="M 218.6,733 A 20.6,10.4 0 0 0 259,733" fill="none" stroke="#000" stroke-width="1.12" stroke-linejoin="round" stroke-linecap="round" />
<ellipse cx="238.8" cy="649.5" rx="20.8" ry="11.7" fill="#fff" stroke="#000" stroke-width="1.46" transform="rotate(0 238.8 649.5)"/>
<ellipse cx="238.8" cy="650" rx="19.2" ry="10.4" fill="#fff" stroke="#000" stroke-width="2.13" transform="rotate(0 238.8 650)"/>
<ellipse cx="238.8" cy="650.8" rx="17" ry="8.8" fill="#fff" stroke="#000" stroke-width="0.9" transform="rotate(0 238.8 650.8)"/>
<ellipse cx="225.3" cy="649.7" rx="1.7" ry="1.4" fill="#fff" stroke="#000" stroke-width="1.01" transform="rotate(0 225.3 649.7)"/>
<ellipse cx="230.5" cy="645.9" rx="1.7" ry="1.4" fill="#fff" stroke="#000" stroke-width="1.01" transform="rotate(0 230.5 645.9)"/>
<ellipse cx="238.8" cy="644.4" rx="1.7" ry="1.4" fill="#fff" stroke="#000" stroke-width="1.01" transform="rotate(0 238.8 644.4)"/>
<ellipse cx="247.1" cy="645.9" rx="1.7" ry="1.4" fill="#fff" stroke="#000" stroke-width="1.01" transform="rotate(0 247.1 645.9)"/>
<ellipse cx="252.3" cy="649.7" rx="1.7" ry="1.4" fill="#fff" stroke="#000" stroke-width="1.01" transform="rotate(0 252.3 649.7)"/>
<ellipse cx="238.8" cy="654.6" rx="11.8" ry="6.6" fill="#fff" stroke="#000" stroke-width="1.46" transform="rotate(0 238.8 654.6)"/>
<ellipse cx="238.8" cy="655.2" rx="9.8" ry="5.2" fill="#fff" stroke="#000" stroke-width="1.01" transform="rotate(0 238.8 655.2)"/>
<path d="M 219,655.5 A 20.4,10.8 0 0 0 258.6,655.5" fill="none" stroke="#000" stroke-width="0.9" stroke-linejoin="round" stroke-linecap="round" />
<line x1="238.5" y1="625" x2="238.5" y2="654" stroke="#000" stroke-width="0.9"/>
<line x1="247.2" y1="696.2" x2="289.2" y2="720.7" stroke="#000" stroke-width="0.9"/>
<path d="M 273.5,718.3 Q 288,724 297.3,709.6 L 297.3,704.8 Q 302.6,707.6 303,713 L 303,727.7 Q 298,738.6 288,739.3 Q 279.6,739.6 273.5,736.5 Z" fill="#fff" stroke="#000" stroke-width="1.23" stroke-linejoin="round" stroke-linecap="round" />
<path d="M 297.3,709.6 L 297.3,717 M 288.6,721.4 Q 297.6,720.6 303,713" fill="none" stroke="#000" stroke-width="1.01" stroke-linejoin="round" stroke-linecap="round" />
<path d="M 360,640.6 L 387,625.4 L 387,634 L 361,649.4 Z" fill="#fff" stroke="#000" stroke-width="1.3" stroke-linejoin="round" stroke-linecap="round" />
<path d="M 362.6,642.6 L 387,628.6 M 360,640.6 L 360.7,648.7" fill="none" stroke="#000" stroke-width="1.04" stroke-linejoin="round" stroke-linecap="round" />
<ellipse cx="365" cy="644.4" rx="1.6" ry="1.0" fill="#fff" stroke="#000" stroke-width="1.04" transform="rotate(-30 365 644.4)"/>
<ellipse cx="377.6" cy="637" rx="1.6" ry="1.0" fill="#fff" stroke="#000" stroke-width="1.04" transform="rotate(-30 377.6 637)"/>
<path d="M 352.7,655.3 L 360.7,650.7 L 372,652 L 372,658 L 360.7,657.3 L 353.3,662 Z" fill="#fff" stroke="#000" stroke-width="1.43" stroke-linejoin="round" stroke-linecap="round" />
<path d="M 352.7,700.7 L 360,696.7 L 372,698 L 372,704 L 360.7,703.3 L 353.3,707.3 Z" fill="#fff" stroke="#000" stroke-width="1.43" stroke-linejoin="round" stroke-linecap="round" />
<ellipse cx="355.4" cy="658.4" rx="1.2" ry="1.8" fill="#fff" stroke="#000" stroke-width="1.04" transform="rotate(0 355.4 658.4)"/>
<ellipse cx="355.4" cy="703.6" rx="1.2" ry="1.8" fill="#fff" stroke="#000" stroke-width="1.04" transform="rotate(0 355.4 703.6)"/>
<line x1="353.8" y1="656.4" x2="353.8" y2="661.6" stroke="#000" stroke-width="1.04"/>
<line x1="353.8" y1="701.8" x2="353.8" y2="707" stroke="#000" stroke-width="1.04"/>
<path d="M 477.5,594.6 L 477.5,656.6 L 531.5,656.6 L 531.5,594.6 Z" fill="#fff" stroke="#000" stroke-width="1.3" stroke-linejoin="round" stroke-linecap="round" />
<line x1="481.7" y1="602.6" x2="481.7" y2="654.6" stroke="#000" stroke-width="2.34"/>
<line x1="478.9" y1="600.6" x2="478.9" y2="654.6" stroke="#000" stroke-width="1.17"/>
<line x1="508.5" y1="606.6" x2="508.5" y2="650.6" stroke="#000" stroke-width="2.08"/>
<line x1="511.9" y1="606.6" x2="511.9" y2="650.6" stroke="#000" stroke-width="1.69"/>
<ellipse cx="533.9" cy="595.8000000000001" rx="3.0" ry="4.6" fill="#fff" stroke="#000" stroke-width="2.21" transform="rotate(-15 533.9 595.8000000000001)"/>
<path d="M 512.5,606.6 L 530.5,602.6 L 530.5,624.6 L 512.5,626.6 Z" fill="#fff" stroke="#000" stroke-width="1.3" stroke-linejoin="round" stroke-linecap="round" />
<ellipse cx="520.1" cy="613.2" rx="5.6" ry="4.6" fill="#fff" stroke="#000" stroke-width="1.95" transform="rotate(-20 520.1 613.2)"/>
<ellipse cx="519.7" cy="619.6" rx="5.6" ry="4.6" fill="none" stroke="#000" stroke-width="1.56" transform="rotate(-20 519.7 619.6)"/>
<path d="M 512.1,607.6 L 517.1,613.2 L 512.1,615.6 Z" fill="#000" stroke="#000" stroke-width="0.78" stroke-linejoin="round" stroke-linecap="round" />
<path d="M 525.5,603.6 L 530.9,609.6 L 530.9,602.6 Z" fill="#000" stroke="#000" stroke-width="0.78" stroke-linejoin="round" stroke-linecap="round" />
<path d="M 476.5,590.6 L 476.5,600.6 A 28,10.5 0 0 0 532.5,600.6 L 532.5,590.6 Z" fill="#fff" stroke="#000" stroke-width="1.43" stroke-linejoin="round" stroke-linecap="round" />
<line x1="477.7" y1="595.6" x2="477.7" y2="604.2" stroke="#000" stroke-width="1.17"/>
<line x1="479.5" y1="595.6" x2="479.5" y2="604.2" stroke="#000" stroke-width="1.17"/>
<line x1="483.8" y1="599.0" x2="483.8" y2="607.6" stroke="#000" stroke-width="1.17"/>
<line x1="485.6" y1="599.0" x2="485.6" y2="607.6" stroke="#000" stroke-width="1.17"/>
<line x1="492.9" y1="601.3" x2="492.9" y2="609.9" stroke="#000" stroke-width="1.17"/>
<line x1="494.7" y1="601.3" x2="494.7" y2="609.9" stroke="#000" stroke-width="1.17"/>
<line x1="503.6" y1="602.1" x2="503.6" y2="610.7" stroke="#000" stroke-width="1.17"/>
<line x1="505.4" y1="602.1" x2="505.4" y2="610.7" stroke="#000" stroke-width="1.17"/>
<line x1="514.3" y1="601.3" x2="514.3" y2="609.9" stroke="#000" stroke-width="1.17"/>
<line x1="516.1" y1="601.3" x2="516.1" y2="609.9" stroke="#000" stroke-width="1.17"/>
<line x1="523.4" y1="599.0" x2="523.4" y2="607.6" stroke="#000" stroke-width="1.17"/>
<line x1="525.2" y1="599.0" x2="525.2" y2="607.6" stroke="#000" stroke-width="1.17"/>
<line x1="529.5" y1="595.6" x2="529.5" y2="604.2" stroke="#000" stroke-width="1.17"/>
<line x1="531.3" y1="595.6" x2="531.3" y2="604.2" stroke="#000" stroke-width="1.17"/>
<ellipse cx="504.5" cy="590.6" rx="28" ry="10.5" fill="#fff" stroke="#000" stroke-width="1.43" transform="rotate(0 504.5 590.6)"/>
<ellipse cx="504.0" cy="589.8000000000001" rx="24.8" ry="9.0" fill="#fff" stroke="#000" stroke-width="2.21" transform="rotate(0 504.0 589.8000000000001)"/>
<path d="M 481.9,589.6 L 481.9,550.1 C 481.9,538.6 491.59999999999997,530.2 503.5,530.2 C 515.4,530.2 525.1,538.6 525.1,550.1 L 525.1,589.6 A 21.6,8 0 0 1 481.9,589.6 Z" fill="#fff" stroke="#000" stroke-width="1.1" stroke-linejoin="round" stroke-linecap="round" />
<path d="M 481.9,550.1 A 21.6,9 0 0 0 525.1,550.1" fill="none" stroke="#000" stroke-width="0.98" stroke-linejoin="round" stroke-linecap="round" />
<path d="M 493.9,543.2 Q 490.1,547.2 489.1,556.2" fill="none" stroke="#000" stroke-width="1.04" stroke-linejoin="round" stroke-linecap="round" />
<ellipse cx="503.7" cy="539.0" rx="11.0" ry="7.3" fill="#111" stroke="#000" stroke-width="1.04" transform="rotate(0 503.7 539.0)"/>
<polygon points="493.4,535.3 495.6,534.4 495.7,532.6 498.3,532.4 499.3,530.7 501.8,531.3 503.7,530.1 505.6,531.3 508.1,530.7 509.1,532.4 511.7,532.6 511.8,534.4 514.0,535.3" fill="#111" stroke="#111" stroke-width="0.8"/>
<line x1="498.6" y1="537.1" x2="500.4" y2="536.1" stroke="#aaa" stroke-width="0.7"/>
<line x1="503.6" y1="535.7" x2="505.4" y2="534.7" stroke="#aaa" stroke-width="0.7"/>
<line x1="507.2" y1="539.7" x2="509.0" y2="538.7" stroke="#aaa" stroke-width="0.7"/>
<line x1="501.0" y1="541.5" x2="502.8" y2="540.5" stroke="#aaa" stroke-width="0.7"/>
<line x1="496.2" y1="541.7" x2="498.0" y2="540.7" stroke="#aaa" stroke-width="0.7"/>
<line x1="505.6" y1="543.3" x2="507.4" y2="542.3" stroke="#aaa" stroke-width="0.7"/>
<line x1="509.6" y1="537.5" x2="511.4" y2="536.5" stroke="#aaa" stroke-width="0.7"/>
<line x1="495.2" y1="538.7" x2="497.0" y2="537.7" stroke="#aaa" stroke-width="0.7"/>
<path d="M 430.8,619.6 L 430.8,681.6 L 484.8,681.6 L 484.8,619.6 Z" fill="#fff" stroke="#000" stroke-width="1.3" stroke-linejoin="round" stroke-linecap="round" />
<line x1="435.0" y1="627.6" x2="435.0" y2="679.6" stroke="#000" stroke-width="2.34"/>
<line x1="432.2" y1="625.6" x2="432.2" y2="679.6" stroke="#000" stroke-width="1.17"/>
<line x1="461.8" y1="631.6" x2="461.8" y2="675.6" stroke="#000" stroke-width="2.08"/>
<line x1="465.2" y1="631.6" x2="465.2" y2="675.6" stroke="#000" stroke-width="1.69"/>
<ellipse cx="487.2" cy="620.8000000000001" rx="3.0" ry="4.6" fill="#fff" stroke="#000" stroke-width="2.21" transform="rotate(-15 487.2 620.8000000000001)"/>
<path d="M 465.8,631.6 L 483.8,627.6 L 483.8,649.6 L 465.8,651.6 Z" fill="#fff" stroke="#000" stroke-width="1.3" stroke-linejoin="round" stroke-linecap="round" />
<ellipse cx="473.40000000000003" cy="638.2" rx="5.6" ry="4.6" fill="#fff" stroke="#000" stroke-width="1.95" transform="rotate(-20 473.40000000000003 638.2)"/>
<ellipse cx="473.0" cy="644.6" rx="5.6" ry="4.6" fill="none" stroke="#000" stroke-width="1.56" transform="rotate(-20 473.0 644.6)"/>
<path d="M 465.40000000000003,632.6 L 470.40000000000003,638.2 L 465.40000000000003,640.6 Z" fill="#000" stroke="#000" stroke-width="0.78" stroke-linejoin="round" stroke-linecap="round" />
<path d="M 478.8,628.6 L 484.2,634.6 L 484.2,627.6 Z" fill="#000" stroke="#000" stroke-width="0.78" stroke-linejoin="round" stroke-linecap="round" />
<path d="M 429.8,615.6 L 429.8,625.6 A 28,10.5 0 0 0 485.8,625.6 L 485.8,615.6 Z" fill="#fff" stroke="#000" stroke-width="1.43" stroke-linejoin="round" stroke-linecap="round" />
<line x1="431.0" y1="620.6" x2="431.0" y2="629.2" stroke="#000" stroke-width="1.17"/>
<line x1="432.8" y1="620.6" x2="432.8" y2="629.2" stroke="#000" stroke-width="1.17"/>
<line x1="437.1" y1="624.0" x2="437.1" y2="632.6" stroke="#000" stroke-width="1.17"/>
<line x1="438.9" y1="624.0" x2="438.9" y2="632.6" stroke="#000" stroke-width="1.17"/>
<line x1="446.2" y1="626.3" x2="446.2" y2="634.9" stroke="#000" stroke-width="1.17"/>
<line x1="448.0" y1="626.3" x2="448.0" y2="634.9" stroke="#000" stroke-width="1.17"/>
<line x1="456.9" y1="627.1" x2="456.9" y2="635.7" stroke="#000" stroke-width="1.17"/>
<line x1="458.7" y1="627.1" x2="458.7" y2="635.7" stroke="#000" stroke-width="1.17"/>
<line x1="467.6" y1="626.3" x2="467.6" y2="634.9" stroke="#000" stroke-width="1.17"/>
<line x1="469.4" y1="626.3" x2="469.4" y2="634.9" stroke="#000" stroke-width="1.17"/>
<line x1="476.7" y1="624.0" x2="476.7" y2="632.6" stroke="#000" stroke-width="1.17"/>
<line x1="478.5" y1="624.0" x2="478.5" y2="632.6" stroke="#000" stroke-width="1.17"/>
<line x1="482.8" y1="620.6" x2="482.8" y2="629.2" stroke="#000" stroke-width="1.17"/>
<line x1="484.6" y1="620.6" x2="484.6" y2="629.2" stroke="#000" stroke-width="1.17"/>
<ellipse cx="457.8" cy="615.6" rx="28" ry="10.5" fill="#fff" stroke="#000" stroke-width="1.43" transform="rotate(0 457.8 615.6)"/>
<ellipse cx="457.3" cy="614.8000000000001" rx="24.8" ry="9.0" fill="#fff" stroke="#000" stroke-width="2.21" transform="rotate(0 457.3 614.8000000000001)"/>
<path d="M 435.2,614.6 L 435.2,575.1 C 435.2,563.6 444.9,555.2 456.8,555.2 C 468.70000000000005,555.2 478.40000000000003,563.6 478.40000000000003,575.1 L 478.40000000000003,614.6 A 21.6,8 0 0 1 435.2,614.6 Z" fill="#fff" stroke="#000" stroke-width="1.1" stroke-linejoin="round" stroke-linecap="round" />
<path d="M 435.2,575.1 A 21.6,9 0 0 0 478.40000000000003,575.1" fill="none" stroke="#000" stroke-width="0.98" stroke-linejoin="round" stroke-linecap="round" />
<path d="M 447.2,568.2 Q 443.40000000000003,572.2 442.40000000000003,581.2" fill="none" stroke="#000" stroke-width="1.04" stroke-linejoin="round" stroke-linecap="round" />
<ellipse cx="457.0" cy="564.0" rx="11.0" ry="7.3" fill="#111" stroke="#000" stroke-width="1.04" transform="rotate(0 457.0 564.0)"/>
<polygon points="446.7,560.3 448.9,559.4 449.0,557.6 451.6,557.4 452.6,555.7 455.1,556.3 457.0,555.1 458.9,556.3 461.4,555.7 462.4,557.4 465.0,557.6 465.1,559.4 467.3,560.3" fill="#111" stroke="#111" stroke-width="0.8"/>
<line x1="451.9" y1="562.1" x2="453.7" y2="561.1" stroke="#aaa" stroke-width="0.7"/>
<line x1="456.9" y1="560.7" x2="458.7" y2="559.7" stroke="#aaa" stroke-width="0.7"/>
<line x1="460.5" y1="564.7" x2="462.3" y2="563.7" stroke="#aaa" stroke-width="0.7"/>
<line x1="454.3" y1="566.5" x2="456.1" y2="565.5" stroke="#aaa" stroke-width="0.7"/>
<line x1="449.5" y1="566.7" x2="451.3" y2="565.7" stroke="#aaa" stroke-width="0.7"/>
<line x1="458.9" y1="568.3" x2="460.7" y2="567.3" stroke="#aaa" stroke-width="0.7"/>
<line x1="462.9" y1="562.5" x2="464.7" y2="561.5" stroke="#aaa" stroke-width="0.7"/>
<line x1="448.5" y1="563.7" x2="450.3" y2="562.7" stroke="#aaa" stroke-width="0.7"/>
<path d="M 384,645 L 384,707 L 438,707 L 438,645 Z" fill="#fff" stroke="#000" stroke-width="1.3" stroke-linejoin="round" stroke-linecap="round" />
<line x1="388.2" y1="653" x2="388.2" y2="705" stroke="#000" stroke-width="2.34"/>
<line x1="385.4" y1="651" x2="385.4" y2="705" stroke="#000" stroke-width="1.17"/>
<line x1="415" y1="657" x2="415" y2="701" stroke="#000" stroke-width="2.08"/>
<line x1="418.4" y1="657" x2="418.4" y2="701" stroke="#000" stroke-width="1.69"/>
<ellipse cx="440.4" cy="646.2" rx="3.0" ry="4.6" fill="#fff" stroke="#000" stroke-width="2.21" transform="rotate(-15 440.4 646.2)"/>
<path d="M 419,657 L 437,653 L 437,675 L 419,677 Z" fill="#fff" stroke="#000" stroke-width="1.3" stroke-linejoin="round" stroke-linecap="round" />
<ellipse cx="426.6" cy="663.6" rx="5.6" ry="4.6" fill="#fff" stroke="#000" stroke-width="1.95" transform="rotate(-20 426.6 663.6)"/>
<ellipse cx="426.2" cy="670" rx="5.6" ry="4.6" fill="none" stroke="#000" stroke-width="1.56" transform="rotate(-20 426.2 670)"/>
<path d="M 418.6,658 L 423.6,663.6 L 418.6,666 Z" fill="#000" stroke="#000" stroke-width="0.78" stroke-linejoin="round" stroke-linecap="round" />
<path d="M 432,654 L 437.4,660 L 437.4,653 Z" fill="#000" stroke="#000" stroke-width="0.78" stroke-linejoin="round" stroke-linecap="round" />
<path d="M 383,641 L 383,651 A 28,10.5 0 0 0 439,651 L 439,641 Z" fill="#fff" stroke="#000" stroke-width="1.43" stroke-linejoin="round" stroke-linecap="round" />
<line x1="384.2" y1="646.0" x2="384.2" y2="654.6" stroke="#000" stroke-width="1.17"/>
<line x1="386.0" y1="646.0" x2="386.0" y2="654.6" stroke="#000" stroke-width="1.17"/>
<line x1="390.3" y1="649.4" x2="390.3" y2="658.0" stroke="#000" stroke-width="1.17"/>
<line x1="392.1" y1="649.4" x2="392.1" y2="658.0" stroke="#000" stroke-width="1.17"/>
<line x1="399.4" y1="651.7" x2="399.4" y2="660.3" stroke="#000" stroke-width="1.17"/>
<line x1="401.2" y1="651.7" x2="401.2" y2="660.3" stroke="#000" stroke-width="1.17"/>
<line x1="410.1" y1="652.5" x2="410.1" y2="661.1" stroke="#000" stroke-width="1.17"/>
<line x1="411.9" y1="652.5" x2="411.9" y2="661.1" stroke="#000" stroke-width="1.17"/>
<line x1="420.8" y1="651.7" x2="420.8" y2="660.3" stroke="#000" stroke-width="1.17"/>
<line x1="422.6" y1="651.7" x2="422.6" y2="660.3" stroke="#000" stroke-width="1.17"/>
<line x1="429.9" y1="649.4" x2="429.9" y2="658.0" stroke="#000" stroke-width="1.17"/>
<line x1="431.7" y1="649.4" x2="431.7" y2="658.0" stroke="#000" stroke-width="1.17"/>
<line x1="436.0" y1="646.0" x2="436.0" y2="654.6" stroke="#000" stroke-width="1.17"/>
<line x1="437.8" y1="646.0" x2="437.8" y2="654.6" stroke="#000" stroke-width="1.17"/>
<ellipse cx="411" cy="641" rx="28" ry="10.5" fill="#fff" stroke="#000" stroke-width="1.43" transform="rotate(0 411 641)"/>
<ellipse cx="410.5" cy="640.2" rx="24.8" ry="9.0" fill="#fff" stroke="#000" stroke-width="2.21" transform="rotate(0 410.5 640.2)"/>
<path d="M 388.4,640 L 388.4,600.5 C 388.4,589 398.09999999999997,580.6 410,580.6 C 421.90000000000003,580.6 431.6,589 431.6,600.5 L 431.6,640 A 21.6,8 0 0 1 388.4,640 Z" fill="#fff" stroke="#000" stroke-width="1.1" stroke-linejoin="round" stroke-linecap="round" />
<path d="M 388.4,600.5 A 21.6,9 0 0 0 431.6,600.5" fill="none" stroke="#000" stroke-width="0.98" stroke-linejoin="round" stroke-linecap="round" />
<path d="M 400.4,593.6 Q 396.6,597.6 395.6,606.6" fill="none" stroke="#000" stroke-width="1.04" stroke-linejoin="round" stroke-linecap="round" />
<ellipse cx="410.2" cy="589.4" rx="11.0" ry="7.3" fill="#111" stroke="#000" stroke-width="1.04" transform="rotate(0 410.2 589.4)"/>
<polygon points="399.9,585.7 402.1,584.8 402.2,583.0 404.8,582.8 405.8,581.1 408.3,581.7 410.2,580.5 412.1,581.7 414.6,581.1 415.6,582.8 418.2,583.0 418.3,584.8 420.5,585.7" fill="#111" stroke="#111" stroke-width="0.8"/>
<line x1="405.1" y1="587.5" x2="406.9" y2="586.5" stroke="#aaa" stroke-width="0.7"/>
<line x1="410.1" y1="586.1" x2="411.9" y2="585.1" stroke="#aaa" stroke-width="0.7"/>
<line x1="413.7" y1="590.1" x2="415.5" y2="589.1" stroke="#aaa" stroke-width="0.7"/>
<line x1="407.5" y1="591.9" x2="409.3" y2="590.9" stroke="#aaa" stroke-width="0.7"/>
<line x1="402.7" y1="592.1" x2="404.5" y2="591.1" stroke="#aaa" stroke-width="0.7"/>
<line x1="412.1" y1="593.7" x2="413.9" y2="592.7" stroke="#aaa" stroke-width="0.7"/>
<line x1="416.1" y1="587.9" x2="417.9" y2="586.9" stroke="#aaa" stroke-width="0.7"/>
<line x1="401.7" y1="589.1" x2="403.5" y2="588.1" stroke="#aaa" stroke-width="0.7"/>
<path d="M 418.7,704 L 549,630 L 560,634.7 L 560,652 L 429.3,728 L 420,722.7 Z" fill="#fff" stroke="#000" stroke-width="1.56" stroke-linejoin="round" stroke-linecap="round" />
<path d="M 418.7,704 L 429.3,710 L 560,634.7 M 429.3,710 L 429.3,728" fill="none" stroke="#000" stroke-width="1.43" stroke-linejoin="round" stroke-linecap="round" />
<ellipse cx="440.7" cy="706.7" rx="1.5" ry="1.8" fill="#000" stroke="#000" stroke-width="0.52" transform="rotate(0 440.7 706.7)"/>
<ellipse cx="440.7" cy="718.9" rx="1.5" ry="1.8" fill="#000" stroke="#000" stroke-width="0.52" transform="rotate(0 440.7 718.9)"/>
<ellipse cx="456.7" cy="697.4" rx="1.5" ry="1.8" fill="#000" stroke="#000" stroke-width="0.52" transform="rotate(0 456.7 697.4)"/>
<ellipse cx="456.7" cy="709.6" rx="1.5" ry="1.8" fill="#000" stroke="#000" stroke-width="0.52" transform="rotate(0 456.7 709.6)"/>
<ellipse cx="472" cy="688.6" rx="1.5" ry="1.8" fill="#000" stroke="#000" stroke-width="0.52" transform="rotate(0 472 688.6)"/>
<ellipse cx="472" cy="700.7" rx="1.5" ry="1.8" fill="#000" stroke="#000" stroke-width="0.52" transform="rotate(0 472 700.7)"/>
<ellipse cx="487.3" cy="679.8" rx="1.5" ry="1.8" fill="#000" stroke="#000" stroke-width="0.52" transform="rotate(0 487.3 679.8)"/>
<ellipse cx="487.3" cy="691.8" rx="1.5" ry="1.8" fill="#000" stroke="#000" stroke-width="0.52" transform="rotate(0 487.3 691.8)"/>
<ellipse cx="502.7" cy="670.9" rx="1.5" ry="1.8" fill="#000" stroke="#000" stroke-width="0.52" transform="rotate(0 502.7 670.9)"/>
<ellipse cx="502.7" cy="682.9" rx="1.5" ry="1.8" fill="#000" stroke="#000" stroke-width="0.52" transform="rotate(0 502.7 682.9)"/>
<ellipse cx="518" cy="662.1" rx="1.5" ry="1.8" fill="#000" stroke="#000" stroke-width="0.52" transform="rotate(0 518 662.1)"/>
<ellipse cx="518" cy="674.0" rx="1.5" ry="1.8" fill="#000" stroke="#000" stroke-width="0.52" transform="rotate(0 518 674.0)"/>
<ellipse cx="533.3" cy="653.2" rx="1.5" ry="1.8" fill="#000" stroke="#000" stroke-width="0.52" transform="rotate(0 533.3 653.2)"/>
<ellipse cx="533.3" cy="665.1" rx="1.5" ry="1.8" fill="#000" stroke="#000" stroke-width="0.52" transform="rotate(0 533.3 665.1)"/>
<ellipse cx="548.7" cy="644.3" rx="1.5" ry="1.8" fill="#000" stroke="#000" stroke-width="0.52" transform="rotate(0 548.7 644.3)"/>
<ellipse cx="548.7" cy="656.1" rx="1.5" ry="1.8" fill="#000" stroke="#000" stroke-width="0.52" transform="rotate(0 548.7 656.1)"/>
<line x1="435.3" y1="716.2" x2="442.7" y2="712.0" stroke="#000" stroke-width="3.12"/>
<line x1="435.3" y1="719.8" x2="439.7" y2="717.3" stroke="#000" stroke-width="1.04"/>
<line x1="546.6" y1="651.8" x2="554.6" y2="647.2" stroke="#000" stroke-width="3.12"/>
<line x1="546.6" y1="655.4" x2="551.6" y2="652.5" stroke="#000" stroke-width="1.04"/>
<path d="M 560,637 L 562.6,638 Q 564,642 562.6,646.6 L 560,647.4" fill="#fff" stroke="#000" stroke-width="1.3" stroke-linejoin="round" stroke-linecap="round" />
<path d="M 418,674 L 548.7,597.3 L 559.3,606 L 559.3,622.7 L 429.3,698 L 418.7,692.7 Z" fill="#fff" stroke="#000" stroke-width="1.56" stroke-linejoin="round" stroke-linecap="round" />
<path d="M 418,674 L 429.3,680 L 559.3,606 M 429.3,680 L 429.3,698" fill="none" stroke="#000" stroke-width="1.43" stroke-linejoin="round" stroke-linecap="round" />
<ellipse cx="440.7" cy="676.7" rx="1.5" ry="1.8" fill="#000" stroke="#000" stroke-width="0.52" transform="rotate(0 440.7 676.7)"/>
<ellipse cx="440.7" cy="688.9" rx="1.5" ry="1.8" fill="#000" stroke="#000" stroke-width="0.52" transform="rotate(0 440.7 688.9)"/>
<ellipse cx="456.7" cy="667.6" rx="1.5" ry="1.8" fill="#000" stroke="#000" stroke-width="0.52" transform="rotate(0 456.7 667.6)"/>
<ellipse cx="456.7" cy="679.6" rx="1.5" ry="1.8" fill="#000" stroke="#000" stroke-width="0.52" transform="rotate(0 456.7 679.6)"/>
<ellipse cx="472" cy="658.9" rx="1.5" ry="1.8" fill="#000" stroke="#000" stroke-width="0.52" transform="rotate(0 472 658.9)"/>
<ellipse cx="472" cy="670.8" rx="1.5" ry="1.8" fill="#000" stroke="#000" stroke-width="0.52" transform="rotate(0 472 670.8)"/>
<ellipse cx="487.3" cy="650.1" rx="1.5" ry="1.8" fill="#000" stroke="#000" stroke-width="0.52" transform="rotate(0 487.3 650.1)"/>
<ellipse cx="487.3" cy="662.0" rx="1.5" ry="1.8" fill="#000" stroke="#000" stroke-width="0.52" transform="rotate(0 487.3 662.0)"/>
<ellipse cx="502.7" cy="641.3" rx="1.5" ry="1.8" fill="#000" stroke="#000" stroke-width="0.52" transform="rotate(0 502.7 641.3)"/>
<ellipse cx="502.7" cy="653.1" rx="1.5" ry="1.8" fill="#000" stroke="#000" stroke-width="0.52" transform="rotate(0 502.7 653.1)"/>
<ellipse cx="518" cy="632.6" rx="1.5" ry="1.8" fill="#000" stroke="#000" stroke-width="0.52" transform="rotate(0 518 632.6)"/>
<ellipse cx="518" cy="644.2" rx="1.5" ry="1.8" fill="#000" stroke="#000" stroke-width="0.52" transform="rotate(0 518 644.2)"/>
<ellipse cx="533.3" cy="623.9" rx="1.5" ry="1.8" fill="#000" stroke="#000" stroke-width="0.52" transform="rotate(0 533.3 623.9)"/>
<ellipse cx="533.3" cy="635.4" rx="1.5" ry="1.8" fill="#000" stroke="#000" stroke-width="0.52" transform="rotate(0 533.3 635.4)"/>
<ellipse cx="548.7" cy="615.1" rx="1.5" ry="1.8" fill="#000" stroke="#000" stroke-width="0.52" transform="rotate(0 548.7 615.1)"/>
<ellipse cx="548.7" cy="626.5" rx="1.5" ry="1.8" fill="#000" stroke="#000" stroke-width="0.52" transform="rotate(0 548.7 626.5)"/>
<line x1="435.3" y1="686.3" x2="442.7" y2="682.1" stroke="#000" stroke-width="3.12"/>
<line x1="435.3" y1="689.9" x2="439.7" y2="687.4" stroke="#000" stroke-width="1.04"/>
<line x1="546.6" y1="622.3" x2="554.6" y2="617.8" stroke="#000" stroke-width="3.12"/>
<line x1="546.6" y1="625.9" x2="551.6" y2="623.1" stroke="#000" stroke-width="1.04"/>
<path d="M 459.4,665.7 L 484,651.7 L 484,664.5 L 459.4,678.5 Z" fill="#fff" stroke="#000" stroke-width="1.69" stroke-linejoin="round" stroke-linecap="round" />
<path d="M 460.79999999999995,666.7 L 483,652.9 L 483,663.1 L 460.79999999999995,677.5 Z" fill="none" stroke="#000" stroke-width="0.91" stroke-linejoin="round" stroke-linecap="round" />
<line x1="462.4" y1="670.3" x2="479" y2="659.1" stroke="#000" stroke-width="2.6"/>
<line x1="470.4" y1="668.0" x2="481" y2="662.0" stroke="#000" stroke-width="2.6"/>
<path d="M 462.4,669.9 L 462.4,676.5 L 466.4,672.3 L 466.4,666.9" fill="none" stroke="#000" stroke-width="1.3" stroke-linejoin="round" stroke-linecap="round" />
<path d="M 507,638.6 L 530,625.5 L 530,638.3 L 507,651.4 Z" fill="#fff" stroke="#000" stroke-width="1.69" stroke-linejoin="round" stroke-linecap="round" />
<path d="M 508.4,639.6 L 529,626.7 L 529,636.9 L 508.4,650.4 Z" fill="none" stroke="#000" stroke-width="0.91" stroke-linejoin="round" stroke-linecap="round" />
<line x1="510" y1="644.2" x2="527.6" y2="631.3" stroke="#000" stroke-width="2.86"/>
<line x1="510" y1="647.8" x2="527.6" y2="634.9" stroke="#000" stroke-width="1.17"/>
<path d="M 559.3,603.6 L 561.6,603.2 Q 564.4,607 562.6,612 L 559.3,613" fill="#fff" stroke="#000" stroke-width="1.3" stroke-linejoin="round" stroke-linecap="round" />
<path d="M 362.4,664 L 362.4,700 Q 362.6,703.6 369,703.8 Q 375.6,703.6 375.8,700 L 375.8,690 L 368,668 Z" fill="#fff" stroke="#000" stroke-width="1.43" stroke-linejoin="round" stroke-linecap="round" />
<line x1="362.6" y1="694.6" x2="375.6" y2="694.6" stroke="#000" stroke-width="2.08"/>
<line x1="362.6" y1="698" x2="375.6" y2="698" stroke="#000" stroke-width="1.04"/>
<ellipse cx="369.8" cy="657.6" rx="8.0" ry="4.8" fill="#fff" stroke="#000" stroke-width="2.21" transform="rotate(0 369.8 657.6)"/>
<ellipse cx="369.8" cy="655.6" rx="4.6" ry="2.9" fill="#fff" stroke="#000" stroke-width="2.34" transform="rotate(0 369.8 655.6)"/>
<path d="M 367.4,648.4 L 372,648.4 L 372.6,654.4 L 366.8,654.4 Z" fill="#fff" stroke="#000" stroke-width="1.56" stroke-linejoin="round" stroke-linecap="round" />
<line x1="366.6" y1="651.4" x2="372.6" y2="651.4" stroke="#000" stroke-width="1.56"/>
<path d="M 369.6,661 Q 366.4,676 372.6,684 Q 376,688 385,691" fill="none" stroke="#000" stroke-width="8.3" stroke-linejoin="round" stroke-linecap="butt"/>
<path d="M 369.6,661 Q 366.4,676 372.6,684 Q 376,688 385,691" fill="none" stroke="#fff" stroke-width="5.7" stroke-linejoin="round" stroke-linecap="butt"/>
<line x1="365.4" y1="667.4" x2="373.4" y2="668.6" stroke="#000" stroke-width="2.6"/>
<line x1="364.8" y1="671.0" x2="372.8" y2="672.2" stroke="#000" stroke-width="1.17"/>
<line x1="378.0" y1="683.4" x2="375.2" y2="691" stroke="#000" stroke-width="2.6"/>
<line x1="381" y1="685.4" x2="378.6" y2="692.4" stroke="#000" stroke-width="1.17"/>
<path d="M 391,671.6 L 399,675.8 L 411.6,683.6" fill="none" stroke="#000" stroke-width="5.0" stroke-linejoin="round" stroke-linecap="butt"/>
<path d="M 391,671.6 L 399,675.8 L 411.6,683.6" fill="none" stroke="#fff" stroke-width="3.0" stroke-linejoin="round" stroke-linecap="butt"/>
<line x1="402.6" y1="675.4" x2="400.2" y2="680" stroke="#000" stroke-width="2.34"/>
<line x1="405.8" y1="677.4" x2="403.4" y2="682" stroke="#000" stroke-width="1.04"/>
<path d="M 385.4,676.6 L 385.4,690" fill="none" stroke="#000" stroke-width="4.4" stroke-linejoin="round" stroke-linecap="butt"/>
<path d="M 385.4,676.6 L 385.4,690" fill="none" stroke="#fff" stroke-width="2.4" stroke-linejoin="round" stroke-linecap="butt"/>
<line x1="383.4" y1="680" x2="387.4" y2="680" stroke="#000" stroke-width="1.82"/>
<path d="M 396,688 L 418,677.2 Q 424.6,677.4 427,684 Q 428.6,691 424.6,695.6 L 402,708.4 Z" fill="#fff" stroke="#000" stroke-width="1.56" stroke-linejoin="round" stroke-linecap="round" />
<path d="M 415.6,678.6 Q 421.6,682.4 421.4,690.6 Q 421,695 419.4,698.4 M 419.8,677.2 Q 425.4,682 424.8,690 Q 424.4,693.6 423,696.6" fill="none" stroke="#000" stroke-width="1.43" stroke-linejoin="round" stroke-linecap="round" />
<path d="M 384.6,696.6 L 392,690.4 L 401.8,686 L 407.6,690 L 408.6,700.6 L 404,708.6 L 394.4,713.6 L 389,714.6 Z" fill="#fff" stroke="#000" stroke-width="1.69" stroke-linejoin="round" stroke-linecap="round" />
<path d="M 392,690.4 L 397.6,694.6 L 407.6,690 M 397.6,694.6 L 398.6,707.6 L 394.4,713.6 M 398.6,707.6 L 408.6,700.6" fill="none" stroke="#000" stroke-width="1.17" stroke-linejoin="round" stroke-linecap="round" />
<ellipse cx="388.8" cy="704.8" rx="5.9" ry="9.6" fill="#fff" stroke="#000" stroke-width="1.82" transform="rotate(-14 388.8 704.8)"/>
<ellipse cx="388.8" cy="704.9" rx="4.4" ry="7.6" fill="#fff" stroke="#000" stroke-width="1.04" transform="rotate(-14 388.8 704.9)"/>
<path d="M 364,706 L 371,709.6 L 379.4,712.6 L 381.6,715.6 L 378,717.4 L 370,714.4 L 364,710.6 Z" fill="#fff" stroke="#000" stroke-width="1.56" stroke-linejoin="round" stroke-linecap="round" />
<ellipse cx="369" cy="710.4" rx="1.3" ry="1.1" fill="#fff" stroke="#000" stroke-width="1.04" transform="rotate(0 369 710.4)"/>
<ellipse cx="376" cy="714" rx="1.3" ry="1.1" fill="#fff" stroke="#000" stroke-width="1.04" transform="rotate(0 376 714)"/>
<path d="M 378,702 Q 378,713 381.6,715.6" fill="none" stroke="#000" stroke-width="1.56" stroke-linejoin="round" stroke-linecap="round" />
<path d="M 396,716 L 407,716 L 406.4,721.4 L 404.4,721.4 L 404.4,724.6 L 398.6,724.6 L 398.6,721.4 L 396.6,721.4 Z" fill="#fff" stroke="#000" stroke-width="1.56" stroke-linejoin="round" stroke-linecap="round" />
<line x1="398.6" y1="722.8" x2="404.4" y2="722.8" stroke="#000" stroke-width="1.04"/>
<line x1="396.4" y1="718.6" x2="406.8" y2="718.6" stroke="#000" stroke-width="1.04"/>
<ellipse cx="420.4" cy="717.2" rx="4.6" ry="5.2" fill="#fff" stroke="#000" stroke-width="1.69" transform="rotate(0 420.4 717.2)"/>
<ellipse cx="419.6" cy="717.4" rx="2.0" ry="2.4" fill="#fff" stroke="#000" stroke-width="1.3" transform="rotate(0 419.6 717.4)"/>
<path d="M 390,714.6 Q 400,719.6 414,714.6" fill="none" stroke="#000" stroke-width="1.3" stroke-linejoin="round" stroke-linecap="round" />
</svg>
</body></html>
